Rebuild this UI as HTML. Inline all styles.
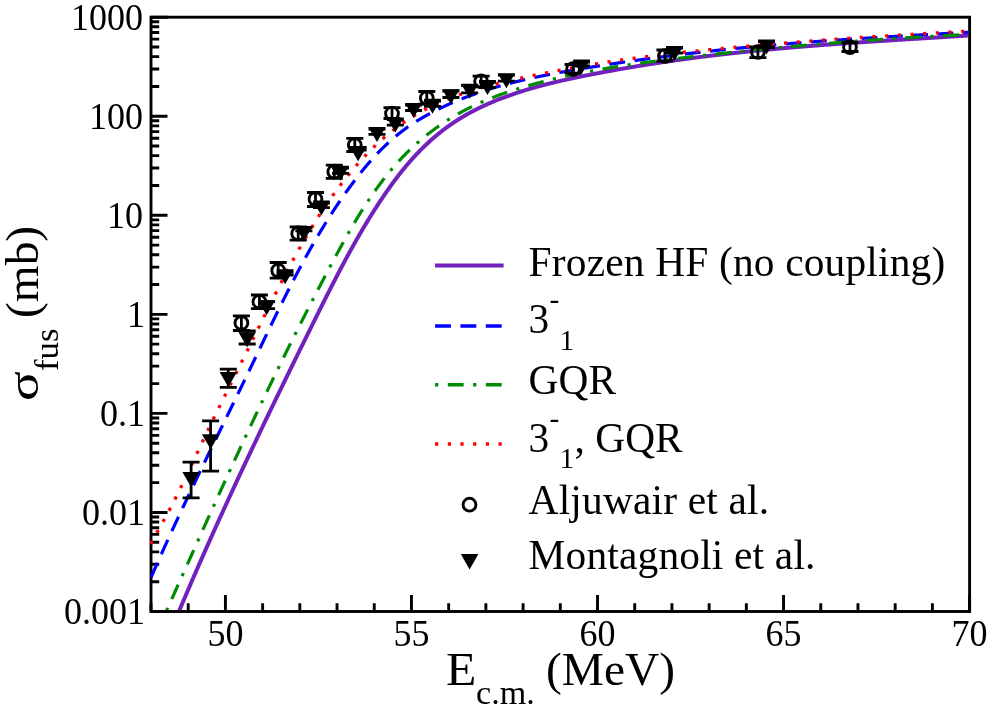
<!DOCTYPE html>
<html><head><meta charset="utf-8"><title>fusion cross sections</title>
<style>
html,body{margin:0;padding:0;background:#fff;}
body{width:991px;height:709px;position:relative;overflow:hidden;font-family:"Liberation Serif",serif;color:#000;}
.a{position:absolute;width:0;height:0;transform-origin:0 0;}
.t{position:absolute;display:block;white-space:nowrap;line-height:1;font-family:"Liberation Serif",serif;}
</style></head><body>
<svg width="991" height="709" viewBox="0 0 991 709" style="position:absolute;left:0;top:0">
<defs><clipPath id="c"><rect x="149.55" y="15.75" width="818.6" height="594.3"/></clipPath></defs>
<path d="M151.00 611.5v-8.2M188.21 611.5v-8.2M225.42 611.5v-16.5M262.63 611.5v-8.2M299.84 611.5v-8.2M337.05 611.5v-8.2M374.25 611.5v-8.2M411.46 611.5v-16.5M448.67 611.5v-8.2M485.88 611.5v-8.2M523.09 611.5v-8.2M560.30 611.5v-8.2M597.51 611.5v-16.5M634.72 611.5v-8.2M671.93 611.5v-8.2M709.14 611.5v-8.2M746.35 611.5v-8.2M783.55 611.5v-16.5M820.76 611.5v-8.2M857.97 611.5v-8.2M895.18 611.5v-8.2M932.39 611.5v-8.2M969.60 611.5v-16.5M151.0 611.50h16.5M151.0 581.68h8.2M151.0 564.24h8.2M151.0 551.87h8.2M151.0 542.27h8.2M151.0 534.42h8.2M151.0 527.79h8.2M151.0 522.05h8.2M151.0 516.98h8.2M151.0 512.45h16.5M151.0 482.63h8.2M151.0 465.19h8.2M151.0 452.82h8.2M151.0 443.22h8.2M151.0 435.37h8.2M151.0 428.74h8.2M151.0 423.00h8.2M151.0 417.93h8.2M151.0 413.40h16.5M151.0 383.58h8.2M151.0 366.14h8.2M151.0 353.77h8.2M151.0 344.17h8.2M151.0 336.32h8.2M151.0 329.69h8.2M151.0 323.95h8.2M151.0 318.88h8.2M151.0 314.35h16.5M151.0 284.53h8.2M151.0 267.09h8.2M151.0 254.72h8.2M151.0 245.12h8.2M151.0 237.27h8.2M151.0 230.64h8.2M151.0 224.90h8.2M151.0 219.83h8.2M151.0 215.30h16.5M151.0 185.48h8.2M151.0 168.04h8.2M151.0 155.67h8.2M151.0 146.07h8.2M151.0 138.22h8.2M151.0 131.59h8.2M151.0 125.85h8.2M151.0 120.78h8.2M151.0 116.25h16.5M151.0 86.43h8.2M151.0 68.99h8.2M151.0 56.62h8.2M151.0 47.02h8.2M151.0 39.17h8.2M151.0 32.54h8.2M151.0 26.80h8.2M151.0 21.73h8.2M151.0 17.20h16.5" stroke="#000" stroke-width="2.9" fill="none"/>
<rect x="151.0" y="17.2" width="818.6" height="594.3" fill="none" stroke="#000" stroke-width="2.9"/>
<g clip-path="url(#c)">
<path d="M174.62 621.78L174.90 621.09L175.19 620.41L175.47 619.72L175.76 619.04L176.04 618.35L176.33 617.67L176.62 616.98L176.90 616.30L177.19 615.61L177.48 614.93L177.76 614.24L178.05 613.56L178.34 612.87L178.62 612.19L178.91 611.50L179.20 610.82L179.49 610.14L179.78 609.45L180.06 608.77L180.35 608.08L180.64 607.40L180.93 606.72L181.22 606.03L181.51 605.35L181.79 604.67L182.08 603.98L182.37 603.30L182.66 602.62L182.95 601.93L183.24 601.25L183.53 600.57L183.82 599.89L184.11 599.20L184.40 598.52L184.69 597.84L184.98 597.16L185.27 596.47L185.57 595.79L185.86 595.11L186.15 594.43L186.44 593.74L186.73 593.06L187.02 592.38L187.31 591.70L187.61 591.02L187.90 590.34L188.19 589.65L188.48 588.97L188.77 588.29L189.07 587.61L189.36 586.93L189.65 586.25L189.95 585.57L190.24 584.89L190.53 584.21L190.83 583.52L191.12 582.84L191.41 582.16L191.71 581.48L192.00 580.80L192.30 580.12L192.59 579.44L192.89 578.76L193.18 578.08L193.47 577.40L193.77 576.72L194.06 576.04L194.36 575.36L194.66 574.68L194.95 574.00L195.25 573.32L195.54 572.64L195.84 571.97L196.13 571.29L196.43 570.61L196.73 569.93L197.02 569.25L197.32 568.57L197.62 567.89L197.91 567.21L198.21 566.53L198.51 565.85L198.81 565.18L199.10 564.50L199.40 563.82L199.70 563.14L200.00 562.46L200.29 561.78L200.59 561.11L200.89 560.43L201.19 559.75L201.49 559.07L201.79 558.39L202.08 557.72L202.38 557.04L202.68 556.36L202.98 555.68L203.28 555.01L203.58 554.33L203.88 553.65L204.18 552.98L204.48 552.30L204.78 551.62L205.08 550.94L205.38 550.27L205.68 549.59L205.98 548.91L206.28 548.24L206.58 547.56L206.88 546.88L207.18 546.21L207.48 545.53L207.79 544.86L208.09 544.18L208.39 543.50L208.69 542.83L208.99 542.15L209.29 541.47L209.60 540.80L209.90 540.12L210.20 539.45L210.50 538.77L210.81 538.10L211.11 537.42L211.41 536.74L211.71 536.07L212.02 535.39L212.32 534.72L212.62 534.04L212.93 533.37L213.23 532.69L213.53 532.02L213.84 531.34L214.14 530.67L214.44 529.99L214.75 529.32L215.05 528.64L215.36 527.97L215.66 527.30L215.97 526.62L216.27 525.95L216.58 525.27L216.88 524.60L217.19 523.92L217.49 523.25L217.80 522.58L218.10 521.90L218.41 521.23L218.71 520.55L219.02 519.88L219.33 519.21L219.63 518.53L219.94 517.86L220.24 517.19L220.55 516.51L220.86 515.84L221.16 515.16L221.47 514.49L221.78 513.82L222.08 513.14L222.39 512.47L222.70 511.80L223.01 511.13L223.31 510.45L223.62 509.78L223.93 509.11L224.24 508.43L224.54 507.76L224.85 507.09L225.16 506.42L225.47 505.74L225.78 505.07L226.08 504.40L226.39 503.73L226.70 503.05L227.01 502.38L227.32 501.71L227.63 501.04L227.94 500.37L228.25 499.69L228.56 499.02L228.87 498.35L229.17 497.68L229.48 497.01L229.79 496.33L230.10 495.66L230.41 494.99L230.72 494.32L231.03 493.65L231.34 492.98L231.65 492.31L231.97 491.63L232.28 490.96L232.59 490.29L232.90 489.62L233.21 488.95L233.52 488.28L233.83 487.61L234.14 486.94L234.45 486.26L234.76 485.59L235.08 484.92L235.39 484.25L235.70 483.58L236.01 482.91L236.32 482.24L236.64 481.57L236.95 480.90L237.26 480.23L237.57 479.56L237.88 478.89L238.20 478.22L238.51 477.55L238.82 476.88L239.14 476.21L239.45 475.54L239.76 474.87L240.07 474.20L240.39 473.53L240.70 472.86L241.02 472.19L241.33 471.52L241.64 470.85L241.96 470.18L242.27 469.51L242.58 468.84L242.90 468.17L243.21 467.50L243.53 466.83L243.84 466.16L244.16 465.49L244.47 464.82L244.78 464.15L245.10 463.48L245.41 462.81L245.73 462.15L246.04 461.48L246.36 460.81L246.67 460.14L246.99 459.47L247.30 458.80L247.62 458.13L247.94 457.46L248.25 456.79L248.57 456.12L248.88 455.46L249.20 454.79L249.52 454.12L249.83 453.45L250.15 452.78L250.46 452.11L250.78 451.44L251.10 450.78L251.41 450.11L251.73 449.44L252.05 448.77L252.36 448.10L252.68 447.44L253.00 446.77L253.32 446.10L253.63 445.43L253.95 444.76L254.27 444.09L254.58 443.43L254.90 442.76L255.22 442.09L255.54 441.42L255.86 440.76L256.17 440.09L256.49 439.42L256.81 438.75L257.13 438.08L257.45 437.42L257.76 436.75L258.08 436.08L258.40 435.41L258.72 434.75L259.04 434.08L259.36 433.41L259.68 432.74L259.99 432.08L260.31 431.41L260.63 430.74L260.95 430.08L261.27 429.41L261.59 428.74L261.91 428.07L262.23 427.41L262.55 426.74L262.87 426.07L263.19 425.41L263.51 424.74L263.83 424.07L264.15 423.40L264.47 422.74L264.79 422.07L265.11 421.40L265.43 420.74L265.75 420.07L266.07 419.40L266.39 418.74L266.71 418.07L267.03 417.40L267.35 416.74L267.67 416.07L267.99 415.40L268.32 414.74L268.64 414.07L268.96 413.41L269.28 412.74L269.60 412.07L269.92 411.41L270.24 410.74L270.56 410.07L270.89 409.41L271.21 408.74L271.53 408.07L271.85 407.41L272.17 406.74L272.50 406.08L272.82 405.41L273.14 404.74L273.46 404.08L273.78 403.41L274.11 402.75L274.43 402.08L274.75 401.41L275.07 400.75L275.40 400.08L275.72 399.42L276.04 398.75L276.36 398.09L276.69 397.42L277.01 396.75L277.33 396.09L277.66 395.42L277.98 394.76L278.30 394.09L278.63 393.43L278.95 392.76L279.27 392.09L279.60 391.43L279.92 390.76L280.24 390.10L280.57 389.43L280.89 388.77L281.21 388.10L281.54 387.44L281.86 386.77L282.19 386.11L282.51 385.44L282.83 384.77L283.16 384.11L283.48 383.44L283.81 382.78L284.13 382.11L284.46 381.45L284.78 380.78L285.11 380.12L285.43 379.45L285.75 378.79L286.08 378.12L286.40 377.46L286.73 376.79L287.05 376.13L287.38 375.46L287.70 374.80L288.03 374.13L288.35 373.47L288.68 372.80L289.01 372.14L289.33 371.47L289.66 370.81L289.98 370.14L290.31 369.48L290.63 368.81L290.96 368.15L291.28 367.48L291.61 366.82L291.94 366.15L292.26 365.49L292.59 364.82L292.91 364.16L293.24 363.49L293.57 362.83L293.89 362.16L294.22 361.50L294.54 360.83L294.87 360.17L295.20 359.50L295.52 358.84L295.85 358.18L296.18 357.51L296.50 356.85L296.83 356.18L297.16 355.52L297.48 354.85L297.81 354.19L298.14 353.52L298.46 352.86L298.79 352.19L299.12 351.53L299.44 350.86L299.77 350.20L300.10 349.54L300.43 348.87L300.75 348.21L301.08 347.54L301.41 346.88L301.74 346.21L302.06 345.55L302.39 344.88L302.72 344.22L303.05 343.56L303.37 342.89L303.70 342.23L304.03 341.56L304.36 340.90L304.68 340.23L305.01 339.57L305.34 338.90L305.67 338.24L306.00 337.58L306.32 336.91L306.65 336.25L306.98 335.58L307.31 334.92L307.64 334.25L307.97 333.59L308.29 332.92L308.62 332.26L308.95 331.60L309.28 330.93L309.61 330.27L309.94 329.60L310.26 328.94L310.59 328.27L310.92 327.61L311.25 326.95L311.58 326.28L311.91 325.62L312.24 324.95L312.57 324.29L312.89 323.62L313.22 322.96L313.55 322.30L313.88 321.63L314.21 320.97L314.54 320.30L314.87 319.64L315.20 318.97L315.53 318.31L315.86 317.64L316.19 316.98L316.52 316.32L316.84 315.65L317.17 314.99L317.50 314.32L317.83 313.66L318.16 313.00L318.49 312.33L318.82 311.67L319.15 311.00L319.48 310.34L319.81 309.68L320.15 309.01L320.48 308.35L320.81 307.68L321.14 307.02L321.47 306.36L321.80 305.69L322.13 305.03L322.46 304.37L322.79 303.70L323.13 303.04L323.46 302.38L323.79 301.71L324.12 301.05L324.45 300.39L324.79 299.73L325.12 299.06L325.45 298.40L325.79 297.74L326.12 297.07L326.45 296.41L326.79 295.75L327.12 295.09L327.46 294.43L327.79 293.76L328.12 293.10L328.46 292.44L328.79 291.78L329.13 291.12L329.46 290.46L329.80 289.79L330.14 289.13L330.47 288.47L330.81 287.81L331.15 287.15L331.48 286.49L331.82 285.83L332.16 285.17L332.50 284.51L332.83 283.85L333.17 283.19L333.51 282.53L333.85 281.87L334.19 281.21L334.53 280.55L334.87 279.89L335.21 279.24L335.55 278.58L335.89 277.92L336.23 277.26L336.57 276.60L336.91 275.94L337.26 275.29L337.60 274.63L337.94 273.97L338.29 273.31L338.63 272.66L338.97 272.00L339.32 271.34L339.66 270.69L340.01 270.03L340.35 269.38L340.70 268.72L341.04 268.06L341.39 267.41L341.74 266.75L342.08 266.10L342.43 265.44L342.78 264.79L343.13 264.14L343.48 263.48L343.83 262.83L344.18 262.18L344.53 261.52L344.88 260.87L345.23 260.22L345.58 259.56L345.93 258.91L346.28 258.26L346.64 257.61L346.99 256.96L347.34 256.31L347.70 255.66L348.05 255.00L348.41 254.35L348.76 253.70L349.12 253.05L349.47 252.40L349.83 251.76L350.19 251.11L350.55 250.46L350.90 249.81L351.26 249.16L351.62 248.51L351.98 247.87L352.34 247.22L352.70 246.57L353.07 245.93L353.43 245.28L353.79 244.63L354.15 243.99L354.52 243.34L354.88 242.70L355.25 242.05L355.61 241.41L355.98 240.77L356.34 240.12L356.71 239.48L357.08 238.84L357.45 238.19L357.81 237.55L358.18 236.91L358.55 236.27L358.92 235.63L359.29 234.98L359.67 234.34L360.04 233.70L360.41 233.06L360.78 232.42L361.16 231.79L361.53 231.15L361.91 230.51L362.28 229.87L362.66 229.23L363.04 228.60L363.42 227.96L363.79 227.32L364.17 226.69L364.55 226.05L364.93 225.41L365.31 224.78L365.70 224.15L366.08 223.51L366.46 222.88L366.85 222.24L367.23 221.61L367.62 220.98L368.00 220.35L368.39 219.72L368.77 219.08L369.16 218.45L369.55 217.82L369.94 217.19L370.33 216.56L370.72 215.93L371.11 215.31L371.51 214.68L371.90 214.05L372.29 213.42L372.69 212.80L373.08 212.17L373.48 211.54L373.87 210.92L374.27 210.29L374.67 209.67L375.07 209.04L375.47 208.42L375.87 207.80L376.27 207.17L376.67 206.55L377.08 205.93L377.48 205.31L377.88 204.69L378.29 204.07L378.70 203.45L379.10 202.83L379.51 202.21L379.92 201.59L380.33 200.97L380.74 200.36L381.15 199.74L381.56 199.12L381.97 198.51L382.39 197.89L382.80 197.28L383.22 196.66L383.63 196.05L384.05 195.43L384.47 194.82L384.89 194.21L385.31 193.60L385.73 192.99L386.15 192.38L386.57 191.77L386.99 191.16L387.42 190.55L387.84 189.94L388.27 189.33L388.70 188.73L389.13 188.12L389.55 187.51L389.98 186.91L390.42 186.31L390.85 185.70L391.28 185.10L391.72 184.50L392.15 183.90L392.59 183.30L393.03 182.70L393.47 182.10L393.91 181.50L394.35 180.91L394.79 180.31L395.23 179.72L395.68 179.12L396.12 178.53L396.57 177.94L397.02 177.35L397.47 176.76L397.92 176.17L398.37 175.58L398.83 175.00L399.28 174.41L399.74 173.83L400.20 173.24L400.66 172.66L401.12 172.08L401.58 171.50L402.04 170.92L402.51 170.34L402.97 169.77L403.44 169.19L403.91 168.62L404.38 168.05L404.85 167.48L405.33 166.91L405.80 166.34L406.28 165.77L406.75 165.20L407.23 164.64L407.71 164.07L408.20 163.51L408.68 162.95L409.16 162.39L409.65 161.83L410.14 161.28L410.63 160.72L411.12 160.17L411.61 159.61L412.11 159.06L412.60 158.51L413.10 157.97L413.60 157.42L414.10 156.87L414.60 156.33L415.10 155.79L415.60 155.25L416.11 154.71L416.62 154.17L417.12 153.63L417.63 153.10L418.15 152.57L418.66 152.03L419.17 151.50L419.69 150.98L420.21 150.45L420.73 149.92L421.25 149.40L421.77 148.88L422.29 148.36L422.82 147.84L423.34 147.32L423.87 146.81L424.40 146.30L424.93 145.78L425.47 145.27L426.00 144.77L426.54 144.26L427.07 143.76L427.61 143.25L428.15 142.75L428.70 142.25L429.24 141.76L429.78 141.26L430.33 140.77L430.88 140.28L431.43 139.79L431.98 139.30L432.53 138.81L433.09 138.33L433.64 137.85L434.20 137.36L434.76 136.89L435.32 136.41L435.88 135.94L436.45 135.46L437.01 134.99L437.58 134.52L438.15 134.06L438.72 133.59L439.29 133.13L439.86 132.67L440.44 132.21L441.01 131.76L441.59 131.30L442.17 130.85L442.75 130.40L443.33 129.95L443.92 129.51L444.50 129.06L445.09 128.62L445.68 128.18L446.27 127.75L446.86 127.31L447.46 126.88L448.05 126.45L448.65 126.02L449.25 125.59L449.85 125.17L450.45 124.75L451.05 124.33L451.66 123.91L452.27 123.50L452.87 123.09L453.48 122.68L454.10 122.27L454.71 121.86L455.32 121.46L455.94 121.06L456.56 120.66L457.18 120.26L457.80 119.87L458.42 119.48L459.04 119.09L459.67 118.70L460.30 118.31L460.92 117.93L461.55 117.55L462.19 117.17L462.82 116.80L463.45 116.42L464.09 116.05L464.72 115.68L465.36 115.31L466.00 114.94L466.64 114.58L467.28 114.22L467.93 113.86L468.57 113.50L469.22 113.15L469.87 112.79L470.52 112.44L471.17 112.09L471.82 111.74L472.47 111.40L473.12 111.06L473.78 110.72L474.43 110.38L475.09 110.04L475.75 109.70L476.41 109.37L477.07 109.04L477.73 108.71L478.39 108.38L479.06 108.06L479.72 107.73L480.39 107.41L481.05 107.09L481.72 106.77L482.39 106.46L483.06 106.14L483.73 105.83L484.41 105.52L485.08 105.21L485.75 104.91L486.43 104.60L487.10 104.30L487.78 104.00L488.46 103.70L489.14 103.40L489.82 103.10L490.50 102.81L491.18 102.52L491.86 102.23L492.54 101.94L493.23 101.65L493.91 101.37L494.60 101.08L495.28 100.80L495.97 100.52L496.66 100.24L497.35 99.96L498.04 99.69L498.73 99.42L499.42 99.14L500.11 98.87L500.80 98.61L501.50 98.34L502.19 98.07L502.88 97.81L503.58 97.55L504.27 97.29L504.97 97.03L505.67 96.77L506.36 96.52L507.06 96.26L507.76 96.01L508.46 95.76L509.16 95.51L509.86 95.26L510.56 95.01L511.26 94.77L511.96 94.52L512.66 94.28L513.36 94.04L514.07 93.80L514.77 93.57L515.47 93.33L516.18 93.09L516.88 92.86L517.59 92.63L518.29 92.40L519.00 92.17L519.71 91.94L520.41 91.72L521.12 91.49L521.83 91.27L522.53 91.04L523.24 90.82L523.95 90.60L524.66 90.39L525.37 90.17L526.08 89.95L526.79 89.74L527.50 89.53L528.21 89.31L528.92 89.10L529.63 88.89L530.34 88.69L531.05 88.48L531.77 88.27L532.48 88.07L533.19 87.86L533.91 87.66L534.62 87.46L535.33 87.26L536.05 87.06L536.76 86.87L537.48 86.67L538.19 86.47L538.91 86.28L539.62 86.09L540.34 85.89L541.06 85.70L541.77 85.51L542.49 85.32L543.21 85.14L543.92 84.95L544.64 84.76L545.36 84.58L546.08 84.39L546.80 84.21L547.52 84.03L548.24 83.85L548.95 83.67L549.67 83.49L550.39 83.31L551.11 83.14L551.83 82.96L552.56 82.78L553.28 82.61L554.00 82.44L554.72 82.26L555.44 82.09L556.16 81.92L556.88 81.75L557.60 81.58L558.33 81.41L559.05 81.25L559.77 81.08L560.49 80.91L561.22 80.75L561.94 80.58L562.66 80.42L563.39 80.26L564.11 80.09L564.84 79.93L565.56 79.77L566.28 79.61L567.01 79.45L567.73 79.29L568.46 79.14L569.18 78.98L569.91 78.82L570.63 78.67L571.36 78.51L572.08 78.36L572.81 78.20L573.53 78.05L574.26 77.89L574.98 77.74L575.71 77.59L576.44 77.44L577.16 77.29L577.89 77.14L578.61 76.99L579.34 76.84L580.07 76.69L580.79 76.54L581.52 76.40L582.25 76.25L582.97 76.10L583.70 75.96L584.43 75.81L585.15 75.66L585.88 75.52L586.61 75.37L587.34 75.23L588.06 75.09L588.79 74.94L589.52 74.80L590.25 74.66L590.97 74.52L591.70 74.37L592.43 74.23L593.15 74.09L593.88 73.95L594.61 73.81L595.34 73.67L596.06 73.53L596.79 73.39L597.52 73.25L598.25 73.11L598.98 72.97L599.70 72.84L600.43 72.70L601.16 72.56L601.89 72.43L602.61 72.29L603.34 72.15L604.07 72.02L604.80 71.88L605.53 71.75L606.25 71.61L606.98 71.48L607.71 71.34L608.44 71.21L609.17 71.07L609.89 70.94L610.62 70.81L611.35 70.68L612.08 70.54L612.81 70.41L613.54 70.28L614.26 70.15L614.99 70.02L615.72 69.89L616.45 69.76L617.18 69.63L617.91 69.50L618.64 69.37L619.36 69.24L620.09 69.11L620.82 68.99L621.55 68.86L622.28 68.73L623.01 68.60L623.74 68.48L624.47 68.35L625.19 68.23L625.92 68.10L626.65 67.97L627.38 67.85L628.11 67.73L628.84 67.60L629.57 67.48L630.30 67.35L631.03 67.23L631.76 67.11L632.49 66.98L633.22 66.86L633.94 66.74L634.67 66.62L635.40 66.50L636.13 66.38L636.86 66.26L637.59 66.14L638.32 66.02L639.05 65.90L639.78 65.78L640.51 65.66L641.24 65.54L641.97 65.42L642.70 65.30L643.43 65.19L644.16 65.07L644.89 64.95L645.62 64.83L646.35 64.72L647.08 64.60L647.81 64.49L648.54 64.37L649.27 64.26L650.00 64.14L650.73 64.03L651.46 63.91L652.19 63.80L652.92 63.69L653.65 63.57L654.38 63.46L655.11 63.35L655.84 63.23L656.58 63.12L657.31 63.01L658.04 62.90L658.77 62.79L659.50 62.68L660.23 62.57L660.96 62.46L661.69 62.35L662.42 62.24L663.15 62.13L663.88 62.02L664.61 61.91L665.35 61.81L666.08 61.70L666.81 61.59L667.54 61.48L668.27 61.38L669.00 61.27L669.73 61.16L670.47 61.06L671.20 60.95L671.93 60.85L672.66 60.74L673.39 60.64L674.12 60.53L674.85 60.43L675.59 60.33L676.32 60.22L677.05 60.12L677.78 60.02L678.51 59.92L679.25 59.81L679.98 59.71L680.71 59.61L681.44 59.51L682.17 59.41L682.91 59.31L683.64 59.21L684.37 59.11L685.10 59.01L685.84 58.91L686.57 58.81L687.30 58.71L688.03 58.61L688.76 58.51L689.50 58.42L690.23 58.32L690.96 58.22L691.70 58.12L692.43 58.03L693.16 57.93L693.89 57.84L694.63 57.74L695.36 57.64L696.09 57.55L696.83 57.45L697.56 57.36L698.29 57.27L699.03 57.17L699.76 57.08L700.49 56.99L701.22 56.89L701.96 56.80L702.69 56.71L703.43 56.62L704.16 56.52L704.89 56.43L705.63 56.34L706.36 56.25L707.09 56.16L707.83 56.07L708.56 55.98L709.29 55.89L710.03 55.80L710.76 55.71L711.50 55.62L712.23 55.53L712.96 55.44L713.70 55.36L714.43 55.27L715.17 55.18L715.90 55.09L716.64 55.01L717.37 54.92L718.10 54.83L718.84 54.75L719.57 54.66L720.31 54.58L721.04 54.49L721.78 54.41L722.51 54.32L723.25 54.24L723.98 54.15L724.72 54.07L725.45 53.99L726.19 53.90L726.92 53.82L727.66 53.74L728.39 53.66L729.13 53.57L729.86 53.49L730.60 53.41L731.33 53.33L732.07 53.25L732.80 53.17L733.54 53.09L734.27 53.01L735.01 52.93L735.74 52.85L736.48 52.77L737.22 52.69L737.95 52.61L738.69 52.53L739.42 52.45L740.16 52.37L740.89 52.29L741.63 52.22L742.37 52.14L743.10 52.06L743.84 51.99L744.57 51.91L745.31 51.83L746.05 51.76L746.78 51.68L747.52 51.60L748.25 51.53L748.99 51.45L749.73 51.38L750.46 51.30L751.20 51.23L751.94 51.16L752.67 51.08L753.41 51.01L754.15 50.93L754.88 50.86L755.62 50.79L756.36 50.72L757.09 50.64L757.83 50.57L758.57 50.50L759.30 50.43L760.04 50.35L760.78 50.28L761.51 50.21L762.25 50.14L762.99 50.07L763.72 50.00L764.46 49.93L765.20 49.86L765.93 49.79L766.67 49.72L767.41 49.65L768.15 49.58L768.88 49.51L769.62 49.44L770.36 49.37L771.09 49.31L771.83 49.24L772.57 49.17L773.31 49.10L774.04 49.03L774.78 48.97L775.52 48.90L776.26 48.83L776.99 48.77L777.73 48.70L778.47 48.63L779.21 48.57L779.94 48.50L780.68 48.44L781.42 48.37L782.16 48.31L782.90 48.24L783.63 48.18L784.37 48.11L785.11 48.05L785.85 47.98L786.58 47.92L787.32 47.85L788.06 47.79L788.80 47.73L789.54 47.66L790.27 47.60L791.01 47.54L791.75 47.48L792.49 47.41L793.23 47.35L793.96 47.29L794.70 47.23L795.44 47.16L796.18 47.10L796.92 47.04L797.66 46.98L798.39 46.92L799.13 46.86L799.87 46.80L800.61 46.74L801.35 46.68L802.09 46.62L802.82 46.56L803.56 46.50L804.30 46.44L805.04 46.38L805.78 46.32L806.52 46.26L807.26 46.20L807.99 46.14L808.73 46.08L809.47 46.02L810.21 45.96L810.95 45.90L811.69 45.85L812.43 45.79L813.16 45.73L813.90 45.67L814.64 45.62L815.38 45.56L816.12 45.50L816.86 45.44L817.60 45.39L818.34 45.33L819.07 45.27L819.81 45.22L820.55 45.16L821.29 45.11L822.03 45.05L822.77 44.99L823.51 44.94L824.25 44.88L824.99 44.83L825.72 44.77L826.46 44.72L827.20 44.66L827.94 44.61L828.68 44.55L829.42 44.50L830.16 44.44L830.90 44.39L831.64 44.33L832.38 44.28L833.12 44.23L833.85 44.17L834.59 44.12L835.33 44.06L836.07 44.01L836.81 43.96L837.55 43.90L838.29 43.85L839.03 43.80L839.77 43.75L840.51 43.69L841.25 43.64L841.99 43.59L842.72 43.54L843.46 43.48L844.20 43.43L844.94 43.38L845.68 43.33L846.42 43.28L847.16 43.22L847.90 43.17L848.64 43.12L849.38 43.07L850.12 43.02L850.86 42.97L851.60 42.92L852.33 42.87L853.07 42.81L853.81 42.76L854.55 42.71L855.29 42.66L856.03 42.61L856.77 42.56L857.51 42.51L858.25 42.46L858.99 42.41L859.73 42.36L860.47 42.31L861.21 42.26L861.95 42.21L862.69 42.16L863.43 42.11L864.16 42.06L864.90 42.01L865.64 41.97L866.38 41.92L867.12 41.87L867.86 41.82L868.60 41.77L869.34 41.72L870.08 41.67L870.82 41.62L871.56 41.57L872.30 41.53L873.04 41.48L873.78 41.43L874.52 41.38L875.26 41.33L875.99 41.28L876.73 41.24L877.47 41.19L878.21 41.14L878.95 41.09L879.69 41.04L880.43 41.00L881.17 40.95L881.91 40.90L882.65 40.85L883.39 40.81L884.13 40.76L884.87 40.71L885.61 40.67L886.35 40.62L887.08 40.57L887.82 40.52L888.56 40.48L889.30 40.43L890.04 40.38L890.78 40.34L891.52 40.29L892.26 40.24L893.00 40.20L893.74 40.15L894.48 40.10L895.22 40.06L895.96 40.01L896.70 39.96L897.43 39.92L898.17 39.87L898.91 39.82L899.65 39.78L900.39 39.73L901.13 39.68L901.87 39.64L902.61 39.59L903.35 39.55L904.09 39.50L904.83 39.45L905.57 39.41L906.30 39.36L907.04 39.32L907.78 39.27L908.52 39.22L909.26 39.18L910.00 39.13L910.74 39.09L911.48 39.04L912.22 38.99L912.96 38.95L913.69 38.90L914.43 38.86L915.17 38.81L915.91 38.77L916.65 38.72L917.39 38.67L918.13 38.63L918.87 38.58L919.61 38.54L920.34 38.49L921.08 38.45L921.82 38.40L922.56 38.35L923.30 38.31L924.04 38.26L924.78 38.22L925.52 38.17L926.25 38.13L926.99 38.08L927.73 38.04L928.47 37.99L929.21 37.94L929.95 37.90L930.69 37.85L931.43 37.81L932.16 37.76L932.90 37.72L933.64 37.67L934.38 37.63L935.12 37.58L935.86 37.53L936.59 37.49L937.33 37.44L938.07 37.40L938.81 37.35L939.55 37.31L940.29 37.26L941.02 37.22L941.76 37.17L942.50 37.12L943.24 37.08L943.98 37.03L944.72 36.99L945.45 36.94L946.19 36.89L946.93 36.85L947.67 36.80L948.41 36.76L949.14 36.71L949.88 36.67L950.62 36.62L951.36 36.57L952.10 36.53L952.83 36.48L953.57 36.44L954.31 36.39L955.05 36.34L955.79 36.30L956.52 36.25L957.26 36.20L958.00 36.16L958.74 36.11L959.47 36.07L960.21 36.02L960.95 35.97L961.69 35.93L962.42 35.88L963.16 35.83L963.90 35.79L964.64 35.74L965.37 35.69L966.11 35.65L966.85 35.60L967.59 35.55L968.32 35.50L969.06 35.46L969.80 35.41L970.54 35.36L971.27 35.32L972.01 35.27L972.75 35.22L973.48 35.17L974.22 35.13L974.96 35.08" fill="none" stroke="#7221bc" stroke-width="4.0" stroke-linejoin="round"/>
<path d="M143.01 596.16L143.30 595.47L143.59 594.78L143.89 594.08L144.18 593.39L144.47 592.70L144.77 592.00L145.06 591.31L145.36 590.62L145.65 589.93L145.95 589.23L146.24 588.54L146.54 587.85L146.83 587.16L147.13 586.47L147.43 585.78L147.72 585.08L148.02 584.39L148.32 583.70L148.62 583.01L148.91 582.32L149.21 581.63L149.51 580.94L149.81 580.25L150.11 579.56L150.41 578.87L150.71 578.18L151.00 577.49L151.30 576.80L151.60 576.12L151.90 575.43L152.21 574.74L152.51 574.05L152.81 573.36L153.11 572.67L153.41 571.99L153.71 571.30L154.01 570.61L154.32 569.92L154.62 569.23L154.92 568.55L155.22 567.86L155.53 567.17L155.83 566.49L156.13 565.80L156.44 565.11L156.74 564.43L157.05 563.74L157.35 563.06L157.66 562.37L157.96 561.68L158.27 561.00L158.57 560.31L158.88 559.63L159.18 558.94L159.49 558.26L159.79 557.57L160.10 556.89L160.41 556.20L160.71 555.52L161.02 554.83L161.33 554.15L161.64 553.47L161.94 552.78L162.25 552.10L162.56 551.41L162.87 550.73L163.18 550.05L163.49 549.36L163.80 548.68L164.10 548.00L164.41 547.32L164.72 546.63L165.03 545.95L165.34 545.27L165.65 544.59L165.96 543.90L166.27 543.22L166.58 542.54L166.90 541.86L167.21 541.18L167.52 540.49L167.83 539.81L168.14 539.13L168.45 538.45L168.77 537.77L169.08 537.09L169.39 536.41L169.70 535.73L170.02 535.04L170.33 534.36L170.64 533.68L170.96 533.00L171.27 532.32L171.58 531.64L171.90 530.96L172.21 530.28L172.52 529.60L172.84 528.92L173.15 528.24L173.47 527.56L173.78 526.89L174.10 526.21L174.41 525.53L174.73 524.85L175.04 524.17L175.36 523.49L175.68 522.81L175.99 522.13L176.31 521.45L176.63 520.78L176.94 520.10L177.26 519.42L177.58 518.74L177.89 518.06L178.21 517.39L178.53 516.71L178.84 516.03L179.16 515.35L179.48 514.67L179.80 514.00L180.12 513.32L180.43 512.64L180.75 511.97L181.07 511.29L181.39 510.61L181.71 509.93L182.03 509.26L182.35 508.58L182.67 507.90L182.99 507.23L183.31 506.55L183.62 505.87L183.94 505.20L184.26 504.52L184.58 503.85L184.91 503.17L185.23 502.49L185.55 501.82L185.87 501.14L186.19 500.47L186.51 499.79L186.83 499.11L187.15 498.44L187.47 497.76L187.79 497.09L188.11 496.41L188.44 495.74L188.76 495.06L189.08 494.39L189.40 493.71L189.72 493.04L190.05 492.36L190.37 491.69L190.69 491.01L191.01 490.34L191.34 489.66L191.66 488.99L191.98 488.31L192.30 487.64L192.63 486.96L192.95 486.29L193.27 485.62L193.60 484.94L193.92 484.27L194.24 483.59L194.57 482.92L194.89 482.24L195.22 481.57L195.54 480.90L195.86 480.22L196.19 479.55L196.51 478.88L196.84 478.20L197.16 477.53L197.49 476.85L197.81 476.18L198.14 475.51L198.46 474.83L198.79 474.16L199.11 473.49L199.44 472.81L199.76 472.14L200.09 471.47L200.41 470.79L200.74 470.12L201.06 469.45L201.39 468.77L201.71 468.10L202.04 467.43L202.37 466.76L202.69 466.08L203.02 465.41L203.34 464.74L203.67 464.06L204.00 463.39L204.32 462.72L204.65 462.05L204.98 461.37L205.30 460.70L205.63 460.03L205.96 459.36L206.28 458.68L206.61 458.01L206.94 457.34L207.26 456.66L207.59 455.99L207.92 455.32L208.24 454.65L208.57 453.98L208.90 453.30L209.23 452.63L209.55 451.96L209.88 451.29L210.21 450.61L210.53 449.94L210.86 449.27L211.19 448.60L211.52 447.92L211.85 447.25L212.17 446.58L212.50 445.91L212.83 445.24L213.16 444.56L213.48 443.89L213.81 443.22L214.14 442.55L214.47 441.88L214.80 441.20L215.12 440.53L215.45 439.86L215.78 439.19L216.11 438.52L216.44 437.84L216.77 437.17L217.09 436.50L217.42 435.83L217.75 435.15L218.08 434.48L218.41 433.81L218.74 433.14L219.06 432.47L219.39 431.79L219.72 431.12L220.05 430.45L220.38 429.78L220.71 429.11L221.03 428.43L221.36 427.76L221.69 427.09L222.02 426.42L222.35 425.75L222.68 425.07L223.01 424.40L223.34 423.73L223.66 423.06L223.99 422.39L224.32 421.71L224.65 421.04L224.98 420.37L225.31 419.70L225.64 419.02L225.96 418.35L226.29 417.68L226.62 417.01L226.95 416.34L227.28 415.66L227.61 414.99L227.94 414.32L228.27 413.65L228.59 412.97L228.92 412.30L229.25 411.63L229.58 410.96L229.91 410.28L230.24 409.61L230.57 408.94L230.89 408.27L231.22 407.59L231.55 406.92L231.88 406.25L232.21 405.58L232.54 404.90L232.87 404.23L233.19 403.56L233.52 402.88L233.85 402.21L234.18 401.54L234.51 400.87L234.84 400.19L235.17 399.52L235.49 398.85L235.82 398.17L236.15 397.50L236.48 396.83L236.81 396.15L237.13 395.48L237.46 394.81L237.79 394.13L238.12 393.46L238.45 392.79L238.78 392.11L239.10 391.44L239.43 390.77L239.76 390.09L240.09 389.42L240.41 388.75L240.74 388.07L241.07 387.40L241.40 386.72L241.73 386.05L242.05 385.38L242.38 384.70L242.71 384.03L243.04 383.35L243.36 382.68L243.69 382.01L244.02 381.33L244.34 380.66L244.67 379.98L245.00 379.31L245.33 378.63L245.65 377.96L245.98 377.28L246.31 376.61L246.63 375.94L246.96 375.26L247.29 374.59L247.61 373.91L247.94 373.24L248.27 372.56L248.59 371.88L248.92 371.21L249.24 370.53L249.57 369.86L249.90 369.18L250.22 368.51L250.55 367.83L250.87 367.16L251.20 366.48L251.53 365.80L251.85 365.13L252.18 364.45L252.50 363.78L252.83 363.10L253.15 362.42L253.48 361.75L253.80 361.07L254.13 360.39L254.45 359.72L254.78 359.04L255.10 358.36L255.43 357.69L255.75 357.01L256.08 356.33L256.40 355.66L256.73 354.98L257.05 354.30L257.38 353.63L257.70 352.95L258.03 352.27L258.35 351.60L258.68 350.92L259.00 350.24L259.33 349.56L259.65 348.89L259.97 348.21L260.30 347.53L260.62 346.86L260.95 346.18L261.27 345.50L261.60 344.82L261.92 344.15L262.25 343.47L262.57 342.79L262.90 342.11L263.22 341.44L263.55 340.76L263.87 340.08L264.20 339.41L264.52 338.73L264.85 338.05L265.17 337.37L265.50 336.70L265.82 336.02L266.15 335.34L266.48 334.67L266.80 333.99L267.13 333.31L267.45 332.63L267.78 331.96L268.11 331.28L268.43 330.60L268.76 329.93L269.08 329.25L269.41 328.57L269.74 327.90L270.06 327.22L270.39 326.54L270.72 325.87L271.05 325.19L271.37 324.51L271.70 323.84L272.03 323.16L272.36 322.49L272.68 321.81L273.01 321.13L273.34 320.46L273.67 319.78L274.00 319.11L274.33 318.43L274.65 317.76L274.98 317.08L275.31 316.41L275.64 315.73L275.97 315.05L276.30 314.38L276.63 313.70L276.96 313.03L277.29 312.36L277.62 311.68L277.96 311.01L278.29 310.33L278.62 309.66L278.95 308.98L279.28 308.31L279.61 307.64L279.95 306.96L280.28 306.29L280.61 305.62L280.94 304.94L281.28 304.27L281.61 303.60L281.94 302.92L282.28 302.25L282.61 301.58L282.95 300.91L283.28 300.23L283.62 299.56L283.95 298.89L284.29 298.22L284.63 297.55L284.96 296.88L285.30 296.20L285.64 295.53L285.97 294.86L286.31 294.19L286.65 293.52L286.99 292.85L287.32 292.18L287.66 291.51L288.00 290.84L288.34 290.17L288.68 289.50L289.02 288.83L289.36 288.16L289.70 287.50L290.04 286.83L290.39 286.16L290.73 285.49L291.07 284.82L291.41 284.15L291.76 283.49L292.10 282.82L292.44 282.15L292.79 281.49L293.13 280.82L293.48 280.15L293.82 279.49L294.17 278.82L294.52 278.16L294.86 277.49L295.21 276.83L295.56 276.16L295.90 275.50L296.25 274.83L296.60 274.17L296.95 273.50L297.30 272.84L297.65 272.18L298.00 271.51L298.35 270.85L298.70 270.19L299.05 269.53L299.41 268.86L299.76 268.20L300.11 267.54L300.47 266.88L300.82 266.22L301.17 265.56L301.53 264.90L301.88 264.24L302.24 263.58L302.60 262.92L302.95 262.26L303.31 261.60L303.67 260.94L304.03 260.29L304.39 259.63L304.75 258.97L305.11 258.31L305.47 257.66L305.83 257.00L306.19 256.34L306.55 255.69L306.91 255.03L307.28 254.38L307.64 253.72L308.01 253.07L308.37 252.41L308.74 251.76L309.10 251.10L309.47 250.45L309.83 249.80L310.20 249.15L310.57 248.49L310.94 247.84L311.31 247.19L311.68 246.54L312.05 245.89L312.42 245.24L312.79 244.59L313.16 243.94L313.54 243.29L313.91 242.64L314.28 241.99L314.66 241.34L315.04 240.70L315.41 240.05L315.79 239.40L316.16 238.76L316.54 238.11L316.92 237.46L317.30 236.82L317.68 236.17L318.06 235.53L318.44 234.88L318.82 234.24L319.21 233.60L319.59 232.95L319.97 232.31L320.36 231.67L320.74 231.03L321.13 230.39L321.51 229.75L321.90 229.10L322.29 228.46L322.68 227.83L323.07 227.19L323.46 226.55L323.85 225.91L324.24 225.27L324.63 224.63L325.02 224.00L325.42 223.36L325.81 222.72L326.21 222.09L326.60 221.45L327.00 220.82L327.40 220.19L327.79 219.55L328.19 218.92L328.59 218.29L328.99 217.65L329.39 217.02L329.79 216.39L330.20 215.76L330.60 215.13L331.00 214.50L331.41 213.87L331.81 213.24L332.22 212.61L332.63 211.98L333.04 211.36L333.44 210.73L333.85 210.10L334.26 209.48L334.67 208.85L335.09 208.23L335.50 207.60L335.91 206.98L336.33 206.36L336.74 205.73L337.16 205.11L337.58 204.49L337.99 203.87L338.41 203.25L338.83 202.63L339.25 202.01L339.67 201.39L340.09 200.77L340.52 200.15L340.94 199.53L341.36 198.92L341.79 198.30L342.22 197.68L342.64 197.07L343.07 196.45L343.50 195.84L343.93 195.23L344.36 194.61L344.79 194.00L345.23 193.39L345.66 192.78L346.09 192.17L346.53 191.56L346.96 190.95L347.40 190.34L347.84 189.73L348.28 189.12L348.72 188.51L349.16 187.91L349.60 187.30L350.04 186.70L350.49 186.09L350.93 185.49L351.38 184.88L351.82 184.28L352.27 183.68L352.72 183.08L353.17 182.48L353.62 181.88L354.07 181.28L354.52 180.68L354.98 180.08L355.43 179.48L355.89 178.89L356.35 178.29L356.80 177.70L357.26 177.10L357.72 176.51L358.18 175.92L358.65 175.33L359.11 174.74L359.57 174.15L360.04 173.56L360.51 172.97L360.98 172.39L361.45 171.80L361.92 171.22L362.39 170.63L362.86 170.05L363.33 169.47L363.81 168.89L364.29 168.31L364.77 167.74L365.24 167.16L365.73 166.59L366.21 166.01L366.69 165.44L367.17 164.87L367.66 164.30L368.15 163.73L368.64 163.16L369.13 162.60L369.62 162.03L370.11 161.47L370.60 160.91L371.10 160.34L371.60 159.79L372.09 159.23L372.59 158.67L373.10 158.12L373.60 157.56L374.10 157.01L374.61 156.46L375.11 155.91L375.62 155.36L376.13 154.82L376.64 154.27L377.16 153.73L377.67 153.19L378.19 152.65L378.70 152.11L379.22 151.58L379.74 151.04L380.27 150.51L380.79 149.98L381.32 149.45L381.84 148.92L382.37 148.40L382.90 147.87L383.43 147.35L383.97 146.83L384.50 146.31L385.04 145.80L385.58 145.28L386.12 144.77L386.66 144.26L387.20 143.75L387.75 143.25L388.30 142.74L388.84 142.24L389.40 141.74L389.95 141.24L390.50 140.74L391.06 140.25L391.62 139.76L392.17 139.27L392.74 138.78L393.30 138.29L393.86 137.81L394.43 137.33L395.00 136.85L395.57 136.37L396.14 135.89L396.72 135.42L397.29 134.95L397.87 134.48L398.45 134.02L399.03 133.55L399.62 133.09L400.20 132.63L400.79 132.18L401.38 131.72L401.97 131.27L402.56 130.82L403.16 130.37L403.76 129.93L404.36 129.49L404.96 129.05L405.56 128.61L406.17 128.17L406.77 127.74L407.38 127.31L407.99 126.88L408.60 126.46L409.22 126.03L409.83 125.61L410.45 125.19L411.07 124.78L411.69 124.36L412.31 123.95L412.94 123.54L413.56 123.13L414.19 122.73L414.82 122.32L415.45 121.92L416.08 121.52L416.71 121.13L417.35 120.73L417.99 120.34L418.62 119.95L419.26 119.56L419.90 119.18L420.55 118.79L421.19 118.41L421.84 118.03L422.48 117.65L423.13 117.28L423.78 116.90L424.43 116.53L425.08 116.16L425.73 115.79L426.39 115.43L427.04 115.06L427.70 114.70L428.36 114.34L429.01 113.99L429.67 113.63L430.33 113.28L431.00 112.92L431.66 112.57L432.32 112.23L432.99 111.88L433.66 111.53L434.32 111.19L434.99 110.85L435.66 110.51L436.33 110.18L437.00 109.84L437.67 109.51L438.35 109.18L439.02 108.85L439.69 108.52L440.37 108.19L441.05 107.87L441.72 107.54L442.40 107.22L443.08 106.90L443.76 106.59L444.44 106.27L445.12 105.96L445.80 105.64L446.48 105.33L447.16 105.02L447.85 104.72L448.53 104.41L449.21 104.11L449.90 103.80L450.59 103.50L451.27 103.20L451.96 102.90L452.65 102.61L453.33 102.31L454.02 102.02L454.71 101.73L455.40 101.44L456.09 101.15L456.78 100.86L457.48 100.58L458.17 100.30L458.86 100.01L459.55 99.73L460.25 99.45L460.94 99.18L461.64 98.90L462.33 98.63L463.03 98.35L463.73 98.08L464.42 97.81L465.12 97.54L465.82 97.28L466.52 97.01L467.22 96.75L467.92 96.48L468.62 96.22L469.32 95.96L470.02 95.70L470.72 95.45L471.43 95.19L472.13 94.94L472.83 94.68L473.54 94.43L474.24 94.18L474.95 93.93L475.65 93.69L476.36 93.44L477.07 93.20L477.77 92.95L478.48 92.71L479.19 92.47L479.90 92.23L480.61 91.99L481.32 91.76L482.03 91.52L482.74 91.29L483.45 91.06L484.16 90.83L484.87 90.60L485.59 90.37L486.30 90.14L487.01 89.91L487.73 89.69L488.44 89.46L489.15 89.24L489.87 89.02L490.59 88.80L491.30 88.58L492.02 88.36L492.73 88.15L493.45 87.93L494.17 87.72L494.89 87.50L495.61 87.29L496.32 87.08L497.04 86.87L497.76 86.67L498.48 86.46L499.20 86.25L499.92 86.05L500.65 85.84L501.37 85.64L502.09 85.44L502.81 85.24L503.53 85.04L504.26 84.84L504.98 84.64L505.70 84.45L506.43 84.25L507.15 84.06L507.88 83.87L508.60 83.68L509.33 83.48L510.05 83.29L510.78 83.11L511.51 82.92L512.23 82.73L512.96 82.55L513.69 82.36L514.42 82.18L515.14 82.00L515.87 81.81L516.60 81.63L517.33 81.45L518.06 81.27L518.79 81.10L519.52 80.92L520.25 80.74L520.98 80.57L521.71 80.39L522.44 80.22L523.17 80.05L523.90 79.88L524.64 79.71L525.37 79.54L526.10 79.37L526.83 79.20L527.57 79.03L528.30 78.87L529.03 78.70L529.77 78.54L530.50 78.37L531.23 78.21L531.97 78.05L532.70 77.89L533.44 77.73L534.17 77.57L534.91 77.41L535.64 77.25L536.38 77.10L537.12 76.94L537.85 76.78L538.59 76.63L539.32 76.47L540.06 76.32L540.80 76.17L541.54 76.02L542.27 75.87L543.01 75.71L543.75 75.56L544.49 75.42L545.22 75.27L545.96 75.12L546.70 74.97L547.44 74.83L548.18 74.68L548.92 74.54L549.66 74.39L550.39 74.25L551.13 74.10L551.87 73.96L552.61 73.82L553.35 73.68L554.09 73.54L554.83 73.40L555.57 73.26L556.31 73.12L557.05 72.98L557.79 72.85L558.53 72.71L559.27 72.57L560.02 72.44L560.76 72.30L561.50 72.17L562.24 72.03L562.98 71.90L563.72 71.76L564.46 71.63L565.20 71.50L565.95 71.37L566.69 71.24L567.43 71.11L568.17 70.98L568.91 70.85L569.65 70.72L570.40 70.59L571.14 70.46L571.88 70.33L572.62 70.20L573.36 70.08L574.11 69.95L574.85 69.82L575.59 69.70L576.33 69.57L577.08 69.45L577.82 69.32L578.56 69.20L579.30 69.07L580.04 68.95L580.79 68.83L581.53 68.71L582.27 68.58L583.01 68.46L583.76 68.34L584.50 68.22L585.24 68.10L585.98 67.98L586.73 67.85L587.47 67.73L588.21 67.61L588.95 67.49L589.70 67.38L590.44 67.26L591.18 67.14L591.92 67.02L592.66 66.90L593.41 66.78L594.15 66.66L594.89 66.55L595.63 66.43L596.37 66.31L597.12 66.19L597.86 66.08L598.60 65.96L599.34 65.85L600.08 65.73L600.83 65.61L601.57 65.50L602.31 65.38L603.05 65.27L603.79 65.15L604.53 65.04L605.27 64.92L606.02 64.81L606.76 64.70L607.50 64.58L608.24 64.47L608.98 64.36L609.72 64.24L610.46 64.13L611.20 64.02L611.95 63.91L612.69 63.79L613.43 63.68L614.17 63.57L614.91 63.46L615.65 63.35L616.39 63.24L617.13 63.13L617.87 63.02L618.61 62.91L619.36 62.80L620.10 62.69L620.84 62.58L621.58 62.47L622.32 62.36L623.06 62.25L623.80 62.14L624.54 62.03L625.28 61.93L626.02 61.82L626.76 61.71L627.50 61.60L628.24 61.50L628.98 61.39L629.73 61.28L630.47 61.18L631.21 61.07L631.95 60.96L632.69 60.86L633.43 60.75L634.17 60.65L634.91 60.54L635.65 60.44L636.39 60.33L637.13 60.23L637.87 60.13L638.61 60.02L639.35 59.92L640.09 59.82L640.83 59.71L641.57 59.61L642.31 59.51L643.05 59.41L643.79 59.30L644.53 59.20L645.28 59.10L646.02 59.00L646.76 58.90L647.50 58.80L648.24 58.70L648.98 58.60L649.72 58.49L650.46 58.39L651.20 58.30L651.94 58.20L652.68 58.10L653.42 58.00L654.16 57.90L654.90 57.80L655.64 57.70L656.38 57.60L657.12 57.51L657.86 57.41L658.60 57.31L659.34 57.21L660.08 57.12L660.82 57.02L661.56 56.92L662.30 56.83L663.05 56.73L663.79 56.63L664.53 56.54L665.27 56.44L666.01 56.35L666.75 56.25L667.49 56.16L668.23 56.06L668.97 55.97L669.71 55.88L670.45 55.78L671.19 55.69L671.93 55.60L672.67 55.50L673.41 55.41L674.16 55.32L674.90 55.23L675.64 55.13L676.38 55.04L677.12 54.95L677.86 54.86L678.60 54.77L679.34 54.68L680.08 54.59L680.82 54.49L681.56 54.40L682.31 54.31L683.05 54.22L683.79 54.13L684.53 54.05L685.27 53.96L686.01 53.87L686.75 53.78L687.49 53.69L688.24 53.60L688.98 53.51L689.72 53.43L690.46 53.34L691.20 53.25L691.94 53.16L692.68 53.08L693.43 52.99L694.17 52.90L694.91 52.82L695.65 52.73L696.39 52.65L697.13 52.56L697.88 52.48L698.62 52.39L699.36 52.31L700.10 52.22L700.84 52.14L701.59 52.05L702.33 51.97L703.07 51.89L703.81 51.80L704.55 51.72L705.30 51.64L706.04 51.55L706.78 51.47L707.52 51.39L708.27 51.31L709.01 51.23L709.75 51.14L710.49 51.06L711.24 50.98L711.98 50.90L712.72 50.82L713.47 50.74L714.21 50.66L714.95 50.58L715.69 50.50L716.44 50.42L717.18 50.34L717.92 50.26L718.67 50.18L719.41 50.10L720.15 50.03L720.90 49.95L721.64 49.87L722.38 49.79L723.13 49.71L723.87 49.64L724.62 49.56L725.36 49.48L726.10 49.41L726.85 49.33L727.59 49.25L728.34 49.18L729.08 49.10L729.82 49.03L730.57 48.95L731.31 48.88L732.06 48.80L732.80 48.73L733.54 48.65L734.29 48.58L735.03 48.50L735.78 48.43L736.52 48.36L737.27 48.28L738.01 48.21L738.76 48.14L739.50 48.06L740.25 47.99L740.99 47.92L741.74 47.85L742.48 47.77L743.23 47.70L743.97 47.63L744.72 47.56L745.46 47.49L746.21 47.42L746.95 47.35L747.70 47.28L748.44 47.21L749.19 47.14L749.93 47.07L750.68 47.00L751.43 46.93L752.17 46.86L752.92 46.79L753.66 46.72L754.41 46.65L755.15 46.58L755.90 46.51L756.65 46.44L757.39 46.38L758.14 46.31L758.88 46.24L759.63 46.17L760.38 46.11L761.12 46.04L761.87 45.97L762.61 45.91L763.36 45.84L764.11 45.77L764.85 45.71L765.60 45.64L766.35 45.57L767.09 45.51L767.84 45.44L768.59 45.38L769.33 45.31L770.08 45.25L770.83 45.18L771.57 45.12L772.32 45.05L773.07 44.99L773.81 44.93L774.56 44.86L775.31 44.80L776.05 44.74L776.80 44.67L777.55 44.61L778.29 44.55L779.04 44.48L779.79 44.42L780.54 44.36L781.28 44.30L782.03 44.23L782.78 44.17L783.52 44.11L784.27 44.05L785.02 43.99L785.77 43.93L786.51 43.86L787.26 43.80L788.01 43.74L788.76 43.68L789.50 43.62L790.25 43.56L791.00 43.50L791.75 43.44L792.49 43.38L793.24 43.32L793.99 43.26L794.74 43.20L795.48 43.14L796.23 43.08L796.98 43.03L797.73 42.97L798.48 42.91L799.22 42.85L799.97 42.79L800.72 42.73L801.47 42.68L802.21 42.62L802.96 42.56L803.71 42.50L804.46 42.45L805.21 42.39L805.95 42.33L806.70 42.27L807.45 42.22L808.20 42.16L808.95 42.10L809.70 42.05L810.44 41.99L811.19 41.94L811.94 41.88L812.69 41.82L813.44 41.77L814.18 41.71L814.93 41.66L815.68 41.60L816.43 41.55L817.18 41.49L817.93 41.44L818.67 41.38L819.42 41.33L820.17 41.27L820.92 41.22L821.67 41.16L822.42 41.11L823.17 41.06L823.91 41.00L824.66 40.95L825.41 40.90L826.16 40.84L826.91 40.79L827.66 40.74L828.40 40.68L829.15 40.63L829.90 40.58L830.65 40.52L831.40 40.47L832.15 40.42L832.90 40.37L833.64 40.32L834.39 40.26L835.14 40.21L835.89 40.16L836.64 40.11L837.39 40.06L838.14 40.01L838.89 39.95L839.63 39.90L840.38 39.85L841.13 39.80L841.88 39.75L842.63 39.70L843.38 39.65L844.13 39.60L844.88 39.55L845.62 39.50L846.37 39.45L847.12 39.40L847.87 39.35L848.62 39.30L849.37 39.25L850.12 39.20L850.87 39.15L851.61 39.10L852.36 39.05L853.11 39.00L853.86 38.95L854.61 38.90L855.36 38.85L856.11 38.80L856.86 38.76L857.60 38.71L858.35 38.66L859.10 38.61L859.85 38.56L860.60 38.51L861.35 38.47L862.10 38.42L862.85 38.37L863.59 38.32L864.34 38.27L865.09 38.23L865.84 38.18L866.59 38.13L867.34 38.08L868.09 38.04L868.84 37.99L869.58 37.94L870.33 37.89L871.08 37.85L871.83 37.80L872.58 37.75L873.33 37.71L874.08 37.66L874.82 37.61L875.57 37.57L876.32 37.52L877.07 37.48L877.82 37.43L878.57 37.38L879.32 37.34L880.07 37.29L880.81 37.25L881.56 37.20L882.31 37.15L883.06 37.11L883.81 37.06L884.56 37.02L885.31 36.97L886.05 36.93L886.80 36.88L887.55 36.84L888.30 36.79L889.05 36.75L889.80 36.70L890.54 36.66L891.29 36.61L892.04 36.57L892.79 36.52L893.54 36.48L894.29 36.43L895.03 36.39L895.78 36.34L896.53 36.30L897.28 36.25L898.03 36.21L898.78 36.17L899.52 36.12L900.27 36.08L901.02 36.03L901.77 35.99L902.52 35.95L903.27 35.90L904.01 35.86L904.76 35.81L905.51 35.77L906.26 35.73L907.01 35.68L907.75 35.64L908.50 35.60L909.25 35.55L910.00 35.51L910.75 35.47L911.49 35.42L912.24 35.38L912.99 35.34L913.74 35.29L914.48 35.25L915.23 35.21L915.98 35.16L916.73 35.12L917.48 35.08L918.22 35.04L918.97 34.99L919.72 34.95L920.47 34.91L921.21 34.87L921.96 34.82L922.71 34.78L923.46 34.74L924.20 34.70L924.95 34.65L925.70 34.61L926.45 34.57L927.19 34.53L927.94 34.48L928.69 34.44L929.44 34.40L930.18 34.36L930.93 34.31L931.68 34.27L932.42 34.23L933.17 34.19L933.92 34.15L934.66 34.10L935.41 34.06L936.16 34.02L936.91 33.98L937.65 33.94L938.40 33.89L939.15 33.85L939.89 33.81L940.64 33.77L941.39 33.73L942.13 33.69L942.88 33.64L943.63 33.60L944.37 33.56L945.12 33.52L945.87 33.48L946.61 33.43L947.36 33.39L948.10 33.35L948.85 33.31L949.60 33.27L950.34 33.23L951.09 33.19L951.84 33.14L952.58 33.10L953.33 33.06L954.07 33.02L954.82 32.98L955.57 32.94L956.31 32.89L957.06 32.85L957.80 32.81L958.55 32.77L959.29 32.73L960.04 32.69L960.79 32.65L961.53 32.60L962.28 32.56L963.02 32.52L963.77 32.48L964.51 32.44L965.26 32.40L966.00 32.36L966.75 32.31L967.49 32.27L968.24 32.23L968.98 32.19L969.73 32.15L970.48 32.11L971.22 32.07L971.96 32.02L972.71 31.98L973.45 31.94L974.20 31.90L974.94 31.86" fill="none" stroke="#0000ff" stroke-width="3.2" stroke-linejoin="round" stroke-dasharray="15.85 9.51" stroke-dashoffset="4.98"/>
<path d="M161.60 621.76L161.90 621.08L162.21 620.40L162.51 619.72L162.82 619.04L163.12 618.37L163.43 617.69L163.73 617.01L164.04 616.33L164.34 615.65L164.65 614.97L164.95 614.29L165.26 613.61L165.56 612.93L165.87 612.25L166.17 611.57L166.48 610.89L166.78 610.21L167.09 609.53L167.39 608.85L167.70 608.17L168.00 607.49L168.31 606.81L168.61 606.12L168.92 605.44L169.22 604.76L169.53 604.08L169.83 603.40L170.14 602.72L170.44 602.04L170.75 601.36L171.05 600.68L171.36 600.00L171.66 599.32L171.97 598.64L172.27 597.96L172.58 597.27L172.88 596.59L173.19 595.91L173.49 595.23L173.80 594.55L174.11 593.87L174.41 593.19L174.72 592.51L175.02 591.82L175.33 591.14L175.63 590.46L175.94 589.78L176.24 589.10L176.55 588.42L176.85 587.73L177.16 587.05L177.47 586.37L177.77 585.69L178.08 585.01L178.38 584.33L178.69 583.64L178.99 582.96L179.30 582.28L179.61 581.60L179.91 580.92L180.22 580.23L180.52 579.55L180.83 578.87L181.13 578.19L181.44 577.50L181.75 576.82L182.05 576.14L182.36 575.46L182.66 574.78L182.97 574.09L183.28 573.41L183.58 572.73L183.89 572.05L184.19 571.36L184.50 570.68L184.81 570.00L185.11 569.32L185.42 568.63L185.72 567.95L186.03 567.27L186.34 566.58L186.64 565.90L186.95 565.22L187.26 564.54L187.56 563.85L187.87 563.17L188.17 562.49L188.48 561.81L188.79 561.12L189.09 560.44L189.40 559.76L189.71 559.07L190.01 558.39L190.32 557.71L190.63 557.03L190.93 556.34L191.24 555.66L191.55 554.98L191.85 554.29L192.16 553.61L192.47 552.93L192.77 552.24L193.08 551.56L193.39 550.88L193.70 550.20L194.00 549.51L194.31 548.83L194.62 548.15L194.92 547.46L195.23 546.78L195.54 546.10L195.85 545.41L196.15 544.73L196.46 544.05L196.77 543.36L197.08 542.68L197.38 542.00L197.69 541.31L198.00 540.63L198.31 539.95L198.61 539.26L198.92 538.58L199.23 537.90L199.54 537.21L199.84 536.53L200.15 535.85L200.46 535.17L200.77 534.48L201.08 533.80L201.38 533.12L201.69 532.43L202.00 531.75L202.31 531.07L202.62 530.38L202.92 529.70L203.23 529.02L203.54 528.33L203.85 527.65L204.16 526.97L204.47 526.28L204.77 525.60L205.08 524.92L205.39 524.23L205.70 523.55L206.01 522.87L206.32 522.18L206.63 521.50L206.94 520.82L207.24 520.13L207.55 519.45L207.86 518.77L208.17 518.09L208.48 517.40L208.79 516.72L209.10 516.04L209.41 515.35L209.72 514.67L210.03 513.99L210.34 513.30L210.65 512.62L210.95 511.94L211.26 511.26L211.57 510.57L211.88 509.89L212.19 509.21L212.50 508.52L212.81 507.84L213.12 507.16L213.43 506.47L213.74 505.79L214.05 505.11L214.36 504.43L214.67 503.74L214.98 503.06L215.29 502.38L215.60 501.70L215.91 501.01L216.22 500.33L216.54 499.65L216.85 498.96L217.16 498.28L217.47 497.60L217.78 496.92L218.09 496.23L218.40 495.55L218.71 494.87L219.02 494.19L219.33 493.51L219.64 492.82L219.95 492.14L220.27 491.46L220.58 490.78L220.89 490.09L221.20 489.41L221.51 488.73L221.82 488.05L222.13 487.36L222.45 486.68L222.76 486.00L223.07 485.32L223.38 484.64L223.69 483.95L224.01 483.27L224.32 482.59L224.63 481.91L224.94 481.23L225.25 480.55L225.57 479.86L225.88 479.18L226.19 478.50L226.50 477.82L226.82 477.14L227.13 476.46L227.44 475.77L227.75 475.09L228.07 474.41L228.38 473.73L228.69 473.05L229.01 472.37L229.32 471.69L229.63 471.01L229.95 470.32L230.26 469.64L230.57 468.96L230.89 468.28L231.20 467.60L231.51 466.92L231.83 466.24L232.14 465.56L232.46 464.88L232.77 464.20L233.08 463.52L233.40 462.84L233.71 462.15L234.03 461.47L234.34 460.79L234.65 460.11L234.97 459.43L235.28 458.75L235.60 458.07L235.91 457.39L236.23 456.71L236.54 456.03L236.86 455.35L237.17 454.67L237.49 453.99L237.80 453.31L238.12 452.63L238.43 451.95L238.75 451.27L239.06 450.59L239.38 449.91L239.70 449.23L240.01 448.56L240.33 447.88L240.64 447.20L240.96 446.52L241.28 445.84L241.59 445.16L241.91 444.48L242.22 443.80L242.54 443.12L242.86 442.44L243.17 441.76L243.49 441.09L243.81 440.41L244.12 439.73L244.44 439.05L244.76 438.37L245.08 437.69L245.39 437.01L245.71 436.34L246.03 435.66L246.34 434.98L246.66 434.30L246.98 433.62L247.30 432.95L247.62 432.27L247.93 431.59L248.25 430.91L248.57 430.24L248.89 429.56L249.21 428.88L249.52 428.20L249.84 427.53L250.16 426.85L250.48 426.17L250.80 425.49L251.12 424.82L251.44 424.14L251.76 423.46L252.07 422.79L252.39 422.11L252.71 421.43L253.03 420.76L253.35 420.08L253.67 419.40L253.99 418.73L254.31 418.05L254.63 417.38L254.95 416.70L255.27 416.02L255.59 415.35L255.91 414.67L256.23 414.00L256.55 413.32L256.87 412.64L257.19 411.97L257.51 411.29L257.83 410.62L258.16 409.94L258.48 409.27L258.80 408.59L259.12 407.92L259.44 407.24L259.76 406.57L260.08 405.89L260.40 405.22L260.73 404.55L261.05 403.87L261.37 403.20L261.69 402.52L262.01 401.85L262.34 401.17L262.66 400.50L262.98 399.83L263.30 399.15L263.63 398.48L263.95 397.81L264.27 397.13L264.60 396.46L264.92 395.79L265.24 395.11L265.56 394.44L265.89 393.77L266.21 393.09L266.54 392.42L266.86 391.75L267.18 391.08L267.51 390.40L267.83 389.73L268.16 389.06L268.48 388.39L268.80 387.72L269.13 387.04L269.45 386.37L269.78 385.70L270.10 385.03L270.43 384.36L270.75 383.69L271.08 383.02L271.40 382.34L271.73 381.67L272.05 381.00L272.38 380.33L272.70 379.66L273.03 378.99L273.36 378.32L273.68 377.65L274.01 376.98L274.34 376.31L274.66 375.64L274.99 374.97L275.31 374.30L275.64 373.63L275.97 372.96L276.30 372.29L276.62 371.62L276.95 370.95L277.28 370.28L277.60 369.61L277.93 368.94L278.26 368.27L278.59 367.60L278.92 366.94L279.24 366.27L279.57 365.60L279.90 364.93L280.23 364.26L280.56 363.59L280.89 362.92L281.22 362.25L281.54 361.59L281.87 360.92L282.20 360.25L282.53 359.58L282.86 358.91L283.19 358.25L283.52 357.58L283.85 356.91L284.18 356.24L284.51 355.57L284.84 354.91L285.17 354.24L285.50 353.57L285.83 352.90L286.17 352.24L286.50 351.57L286.83 350.90L287.16 350.24L287.49 349.57L287.82 348.90L288.15 348.24L288.49 347.57L288.82 346.90L289.15 346.23L289.48 345.57L289.82 344.90L290.15 344.23L290.48 343.57L290.81 342.90L291.15 342.24L291.48 341.57L291.81 340.90L292.15 340.24L292.48 339.57L292.81 338.90L293.15 338.24L293.48 337.57L293.82 336.91L294.15 336.24L294.49 335.57L294.82 334.91L295.16 334.24L295.49 333.58L295.83 332.91L296.16 332.24L296.50 331.58L296.83 330.91L297.17 330.25L297.50 329.58L297.84 328.92L298.18 328.25L298.51 327.59L298.85 326.92L299.19 326.25L299.52 325.59L299.86 324.92L300.20 324.26L300.54 323.59L300.87 322.93L301.21 322.26L301.55 321.60L301.89 320.93L302.23 320.27L302.56 319.60L302.90 318.94L303.24 318.27L303.58 317.61L303.92 316.94L304.26 316.28L304.60 315.61L304.94 314.95L305.28 314.28L305.62 313.62L305.96 312.95L306.30 312.29L306.64 311.62L306.98 310.96L307.32 310.29L307.66 309.63L308.00 308.96L308.35 308.30L308.69 307.63L309.03 306.97L309.37 306.30L309.71 305.64L310.06 304.97L310.40 304.31L310.74 303.64L311.08 302.98L311.43 302.31L311.77 301.65L312.11 300.98L312.46 300.32L312.80 299.65L313.15 298.99L313.49 298.32L313.83 297.66L314.18 296.99L314.52 296.33L314.87 295.66L315.21 295.00L315.56 294.33L315.90 293.67L316.25 293.00L316.60 292.34L316.94 291.67L317.29 291.01L317.64 290.34L317.98 289.68L318.33 289.01L318.68 288.35L319.02 287.68L319.37 287.02L319.72 286.35L320.07 285.69L320.41 285.02L320.76 284.36L321.11 283.69L321.46 283.03L321.81 282.36L322.16 281.70L322.51 281.03L322.86 280.37L323.21 279.70L323.56 279.03L323.91 278.37L324.26 277.70L324.61 277.04L324.96 276.37L325.31 275.71L325.66 275.04L326.01 274.38L326.36 273.71L326.72 273.04L327.07 272.38L327.42 271.71L327.77 271.05L328.12 270.38L328.48 269.71L328.83 269.05L329.18 268.38L329.54 267.72L329.89 267.05L330.25 266.38L330.60 265.72L330.95 265.05L331.31 264.39L331.66 263.72L332.02 263.05L332.37 262.39L332.73 261.72L333.09 261.05L333.44 260.39L333.80 259.72L334.15 259.05L334.51 258.39L334.87 257.72L335.23 257.06L335.58 256.39L335.94 255.72L336.30 255.06L336.66 254.39L337.02 253.73L337.38 253.06L337.74 252.40L338.10 251.73L338.46 251.07L338.82 250.40L339.18 249.74L339.55 249.07L339.91 248.41L340.27 247.74L340.64 247.08L341.00 246.42L341.36 245.75L341.73 245.09L342.09 244.43L342.46 243.76L342.83 243.10L343.19 242.44L343.56 241.78L343.93 241.11L344.30 240.45L344.66 239.79L345.03 239.13L345.40 238.47L345.77 237.81L346.14 237.15L346.52 236.49L346.89 235.83L347.26 235.17L347.63 234.52L348.01 233.86L348.38 233.20L348.76 232.54L349.13 231.89L349.51 231.23L349.88 230.57L350.26 229.92L350.64 229.26L351.02 228.61L351.40 227.96L351.78 227.30L352.16 226.65L352.54 226.00L352.92 225.34L353.31 224.69L353.69 224.04L354.07 223.39L354.46 222.74L354.85 222.09L355.23 221.44L355.62 220.79L356.01 220.15L356.40 219.50L356.79 218.85L357.18 218.21L357.57 217.56L357.96 216.92L358.35 216.27L358.75 215.63L359.14 214.99L359.53 214.35L359.93 213.70L360.33 213.06L360.73 212.42L361.12 211.78L361.52 211.14L361.92 210.51L362.33 209.87L362.73 209.23L363.13 208.60L363.53 207.96L363.94 207.33L364.35 206.70L364.75 206.06L365.16 205.43L365.57 204.80L365.98 204.17L366.39 203.54L366.80 202.91L367.21 202.28L367.63 201.66L368.04 201.03L368.46 200.41L368.87 199.78L369.29 199.16L369.71 198.53L370.13 197.91L370.55 197.29L370.97 196.67L371.39 196.05L371.82 195.44L372.24 194.82L372.67 194.20L373.10 193.59L373.52 192.97L373.95 192.36L374.38 191.75L374.81 191.14L375.25 190.53L375.68 189.92L376.12 189.31L376.55 188.70L376.99 188.10L377.43 187.49L377.87 186.89L378.31 186.28L378.75 185.68L379.19 185.08L379.64 184.48L380.08 183.88L380.53 183.29L380.98 182.69L381.43 182.09L381.88 181.50L382.33 180.91L382.78 180.32L383.24 179.73L383.69 179.14L384.15 178.55L384.61 177.96L385.07 177.38L385.53 176.79L385.99 176.21L386.45 175.63L386.92 175.05L387.38 174.47L387.85 173.89L388.32 173.31L388.79 172.73L389.26 172.16L389.73 171.59L390.21 171.02L390.68 170.45L391.16 169.88L391.64 169.31L392.12 168.74L392.60 168.18L393.08 167.61L393.57 167.05L394.05 166.49L394.54 165.93L395.03 165.37L395.52 164.81L396.01 164.26L396.50 163.71L397.00 163.15L397.50 162.60L397.99 162.05L398.49 161.50L398.99 160.96L399.50 160.41L400.00 159.87L400.50 159.33L401.01 158.79L401.52 158.25L402.03 157.71L402.54 157.17L403.05 156.64L403.57 156.11L404.09 155.57L404.60 155.04L405.12 154.52L405.64 153.99L406.17 153.46L406.69 152.94L407.22 152.42L407.75 151.90L408.28 151.38L408.81 150.86L409.34 150.35L409.87 149.83L410.41 149.32L410.95 148.81L411.48 148.30L412.02 147.79L412.57 147.29L413.11 146.78L413.65 146.28L414.20 145.78L414.75 145.28L415.30 144.78L415.85 144.29L416.40 143.79L416.96 143.30L417.51 142.81L418.07 142.32L418.63 141.83L419.19 141.35L419.75 140.86L420.31 140.38L420.88 139.90L421.44 139.42L422.01 138.95L422.58 138.47L423.15 138.00L423.72 137.52L424.29 137.05L424.87 136.59L425.45 136.12L426.02 135.65L426.60 135.19L427.18 134.73L427.77 134.27L428.35 133.81L428.93 133.35L429.52 132.90L430.11 132.45L430.70 132.00L431.29 131.55L431.88 131.10L432.47 130.65L433.07 130.21L433.66 129.77L434.26 129.33L434.86 128.89L435.46 128.45L436.06 128.02L436.66 127.58L437.27 127.15L437.87 126.72L438.48 126.30L439.09 125.87L439.70 125.45L440.31 125.02L440.92 124.60L441.53 124.19L442.15 123.77L442.77 123.35L443.38 122.94L444.00 122.53L444.62 122.12L445.24 121.72L445.87 121.31L446.49 120.91L447.11 120.50L447.74 120.11L448.37 119.71L449.00 119.31L449.63 118.92L450.26 118.53L450.89 118.14L451.53 117.75L452.16 117.36L452.80 116.98L453.44 116.60L454.08 116.21L454.72 115.84L455.36 115.46L456.00 115.09L456.64 114.71L457.29 114.34L457.93 113.97L458.58 113.61L459.23 113.24L459.88 112.88L460.53 112.52L461.18 112.16L461.84 111.80L462.49 111.45L463.15 111.10L463.80 110.74L464.46 110.40L465.12 110.05L465.78 109.70L466.44 109.36L467.11 109.02L467.77 108.68L468.43 108.34L469.10 108.01L469.77 107.68L470.43 107.35L471.10 107.02L471.77 106.69L472.44 106.36L473.12 106.04L473.79 105.72L474.46 105.40L475.14 105.08L475.82 104.76L476.49 104.45L477.17 104.14L477.85 103.83L478.53 103.52L479.21 103.21L479.89 102.91L480.58 102.60L481.26 102.30L481.95 102.00L482.63 101.70L483.32 101.41L484.00 101.11L484.69 100.82L485.38 100.53L486.07 100.24L486.76 99.95L487.45 99.66L488.15 99.38L488.84 99.10L489.53 98.81L490.23 98.53L490.93 98.26L491.62 97.98L492.32 97.70L493.02 97.43L493.72 97.16L494.42 96.89L495.12 96.62L495.82 96.35L496.52 96.09L497.22 95.82L497.92 95.56L498.63 95.30L499.33 95.04L500.04 94.78L500.74 94.53L501.45 94.27L502.16 94.02L502.86 93.76L503.57 93.51L504.28 93.26L504.99 93.02L505.70 92.77L506.41 92.52L507.12 92.28L507.83 92.04L508.54 91.80L509.26 91.56L509.97 91.32L510.68 91.08L511.40 90.84L512.11 90.61L512.83 90.38L513.54 90.14L514.26 89.91L514.98 89.68L515.69 89.46L516.41 89.23L517.13 89.00L517.85 88.78L518.57 88.55L519.29 88.33L520.01 88.11L520.73 87.89L521.45 87.67L522.17 87.45L522.89 87.24L523.61 87.02L524.33 86.81L525.05 86.60L525.78 86.38L526.50 86.17L527.22 85.96L527.94 85.75L528.67 85.55L529.39 85.34L530.12 85.13L530.84 84.93L531.56 84.73L532.29 84.52L533.01 84.32L533.74 84.12L534.46 83.92L535.19 83.72L535.92 83.53L536.64 83.33L537.37 83.13L538.09 82.94L538.82 82.74L539.55 82.55L540.27 82.36L541.00 82.17L541.73 81.98L542.46 81.79L543.18 81.60L543.91 81.41L544.64 81.23L545.37 81.04L546.09 80.85L546.82 80.67L547.55 80.49L548.28 80.31L549.01 80.12L549.74 79.94L550.47 79.76L551.20 79.59L551.93 79.41L552.66 79.23L553.39 79.05L554.12 78.88L554.85 78.71L555.58 78.53L556.31 78.36L557.04 78.19L557.77 78.02L558.50 77.85L559.23 77.68L559.96 77.51L560.69 77.34L561.42 77.17L562.15 77.01L562.89 76.84L563.62 76.68L564.35 76.51L565.08 76.35L565.81 76.19L566.55 76.03L567.28 75.87L568.01 75.71L568.74 75.55L569.48 75.39L570.21 75.23L570.94 75.07L571.68 74.92L572.41 74.76L573.14 74.61L573.88 74.46L574.61 74.30L575.35 74.15L576.08 74.00L576.81 73.85L577.55 73.70L578.28 73.55L579.02 73.40L579.75 73.25L580.49 73.10L581.22 72.96L581.96 72.81L582.69 72.67L583.43 72.52L584.16 72.38L584.90 72.24L585.63 72.09L586.37 71.95L587.11 71.81L587.84 71.67L588.58 71.53L589.32 71.39L590.05 71.25L590.79 71.11L591.53 70.98L592.26 70.84L593.00 70.71L593.74 70.57L594.47 70.44L595.21 70.30L595.95 70.17L596.68 70.04L597.42 69.90L598.16 69.77L598.90 69.64L599.64 69.51L600.37 69.38L601.11 69.25L601.85 69.12L602.59 69.00L603.33 68.87L604.06 68.74L604.80 68.62L605.54 68.49L606.28 68.37L607.02 68.24L607.76 68.12L608.50 67.99L609.24 67.87L609.98 67.75L610.71 67.63L611.45 67.51L612.19 67.39L612.93 67.27L613.67 67.15L614.41 67.03L615.15 66.91L615.89 66.79L616.63 66.67L617.37 66.56L618.11 66.44L618.85 66.32L619.59 66.21L620.33 66.09L621.07 65.98L621.81 65.87L622.55 65.75L623.29 65.64L624.03 65.53L624.78 65.41L625.52 65.30L626.26 65.19L627.00 65.08L627.74 64.97L628.48 64.86L629.22 64.75L629.96 64.64L630.70 64.54L631.45 64.43L632.19 64.32L632.93 64.21L633.67 64.11L634.41 64.00L635.15 63.89L635.90 63.79L636.64 63.68L637.38 63.58L638.12 63.47L638.86 63.37L639.60 63.27L640.35 63.16L641.09 63.06L641.83 62.96L642.57 62.86L643.32 62.76L644.06 62.65L644.80 62.55L645.54 62.45L646.29 62.35L647.03 62.25L647.77 62.15L648.51 62.06L649.26 61.96L650.00 61.86L650.74 61.76L651.48 61.66L652.23 61.57L652.97 61.47L653.71 61.37L654.46 61.27L655.20 61.18L655.94 61.08L656.68 60.99L657.43 60.89L658.17 60.80L658.91 60.70L659.66 60.61L660.40 60.51L661.14 60.42L661.89 60.33L662.63 60.23L663.37 60.14L664.12 60.05L664.86 59.96L665.60 59.86L666.35 59.77L667.09 59.68L667.83 59.59L668.58 59.50L669.32 59.41L670.07 59.32L670.81 59.22L671.55 59.13L672.30 59.04L673.04 58.95L673.78 58.86L674.53 58.77L675.27 58.69L676.01 58.60L676.76 58.51L677.50 58.42L678.25 58.33L678.99 58.24L679.73 58.15L680.48 58.07L681.22 57.98L681.96 57.89L682.71 57.80L683.45 57.72L684.20 57.63L684.94 57.54L685.68 57.45L686.43 57.37L687.17 57.28L687.91 57.19L688.66 57.11L689.40 57.02L690.15 56.94L690.89 56.85L691.63 56.76L692.38 56.68L693.12 56.59L693.86 56.51L694.61 56.42L695.35 56.34L696.10 56.25L696.84 56.17L697.58 56.08L698.33 56.00L699.07 55.91L699.82 55.83L700.56 55.75L701.30 55.66L702.05 55.58L702.79 55.49L703.53 55.41L704.28 55.33L705.02 55.24L705.77 55.16L706.51 55.08L707.25 55.00L708.00 54.91L708.74 54.83L709.48 54.75L710.23 54.67L710.97 54.58L711.72 54.50L712.46 54.42L713.20 54.34L713.95 54.26L714.69 54.18L715.44 54.09L716.18 54.01L716.92 53.93L717.67 53.85L718.41 53.77L719.16 53.69L719.90 53.61L720.64 53.53L721.39 53.45L722.13 53.37L722.87 53.29L723.62 53.21L724.36 53.13L725.11 53.05L725.85 52.97L726.59 52.89L727.34 52.81L728.08 52.73L728.83 52.65L729.57 52.58L730.31 52.50L731.06 52.42L731.80 52.34L732.55 52.26L733.29 52.18L734.03 52.11L734.78 52.03L735.52 51.95L736.27 51.87L737.01 51.80L737.75 51.72L738.50 51.64L739.24 51.57L739.99 51.49L740.73 51.41L741.47 51.34L742.22 51.26L742.96 51.18L743.71 51.11L744.45 51.03L745.19 50.96L745.94 50.88L746.68 50.80L747.43 50.73L748.17 50.65L748.91 50.58L749.66 50.50L750.40 50.43L751.15 50.35L751.89 50.28L752.64 50.21L753.38 50.13L754.12 50.06L754.87 49.98L755.61 49.91L756.36 49.84L757.10 49.76L757.84 49.69L758.59 49.62L759.33 49.54L760.08 49.47L760.82 49.40L761.57 49.32L762.31 49.25L763.05 49.18L763.80 49.11L764.54 49.04L765.29 48.96L766.03 48.89L766.78 48.82L767.52 48.75L768.26 48.68L769.01 48.61L769.75 48.53L770.50 48.46L771.24 48.39L771.99 48.32L772.73 48.25L773.47 48.18L774.22 48.11L774.96 48.04L775.71 47.97L776.45 47.90L777.20 47.83L777.94 47.76L778.69 47.69L779.43 47.62L780.17 47.55L780.92 47.48L781.66 47.41L782.41 47.35L783.15 47.28L783.90 47.21L784.64 47.14L785.39 47.07L786.13 47.00L786.88 46.93L787.62 46.87L788.36 46.80L789.11 46.73L789.85 46.66L790.60 46.60L791.34 46.53L792.09 46.46L792.83 46.40L793.58 46.33L794.32 46.26L795.07 46.20L795.81 46.13L796.56 46.06L797.30 46.00L798.04 45.93L798.79 45.87L799.53 45.80L800.28 45.73L801.02 45.67L801.77 45.60L802.51 45.54L803.26 45.47L804.00 45.41L804.75 45.34L805.49 45.28L806.24 45.22L806.98 45.15L807.73 45.09L808.47 45.02L809.22 44.96L809.96 44.89L810.71 44.83L811.45 44.77L812.20 44.70L812.94 44.64L813.69 44.58L814.43 44.52L815.18 44.45L815.92 44.39L816.67 44.33L817.41 44.26L818.16 44.20L818.90 44.14L819.65 44.08L820.39 44.02L821.14 43.96L821.88 43.89L822.63 43.83L823.37 43.77L824.12 43.71L824.86 43.65L825.61 43.59L826.35 43.53L827.10 43.47L827.84 43.41L828.59 43.35L829.34 43.29L830.08 43.23L830.83 43.17L831.57 43.11L832.32 43.05L833.06 42.99L833.81 42.93L834.55 42.87L835.30 42.81L836.04 42.75L836.79 42.69L837.53 42.63L838.28 42.57L839.03 42.52L839.77 42.46L840.52 42.40L841.26 42.34L842.01 42.28L842.75 42.23L843.50 42.17L844.25 42.11L844.99 42.05L845.74 42.00L846.48 41.94L847.23 41.88L847.97 41.83L848.72 41.77L849.46 41.71L850.21 41.66L850.96 41.60L851.70 41.54L852.45 41.49L853.19 41.43L853.94 41.38L854.69 41.32L855.43 41.26L856.18 41.21L856.92 41.15L857.67 41.10L858.42 41.04L859.16 40.99L859.91 40.94L860.65 40.88L861.40 40.83L862.15 40.77L862.89 40.72L863.64 40.66L864.38 40.61L865.13 40.56L865.88 40.50L866.62 40.45L867.37 40.40L868.11 40.34L868.86 40.29L869.61 40.24L870.35 40.18L871.10 40.13L871.85 40.08L872.59 40.03L873.34 39.98L874.08 39.92L874.83 39.87L875.58 39.82L876.32 39.77L877.07 39.72L877.82 39.67L878.56 39.61L879.31 39.56L880.06 39.51L880.80 39.46L881.55 39.41L882.30 39.36L883.04 39.31L883.79 39.26L884.54 39.21L885.28 39.16L886.03 39.11L886.78 39.06L887.52 39.01L888.27 38.96L889.02 38.91L889.76 38.86L890.51 38.81L891.26 38.76L892.00 38.72L892.75 38.67L893.50 38.62L894.24 38.57L894.99 38.52L895.74 38.47L896.49 38.43L897.23 38.38L897.98 38.33L898.73 38.28L899.47 38.24L900.22 38.19L900.97 38.14L901.71 38.09L902.46 38.05L903.21 38.00L903.96 37.95L904.70 37.91L905.45 37.86L906.20 37.81L906.95 37.77L907.69 37.72L908.44 37.68L909.19 37.63L909.93 37.59L910.68 37.54L911.43 37.49L912.18 37.45L912.92 37.40L913.67 37.36L914.42 37.32L915.17 37.27L915.92 37.23L916.66 37.18L917.41 37.14L918.16 37.09L918.91 37.05L919.65 37.01L920.40 36.96L921.15 36.92L921.90 36.88L922.64 36.83L923.39 36.79L924.14 36.75L924.89 36.70L925.64 36.66L926.38 36.62L927.13 36.58L927.88 36.53L928.63 36.49L929.38 36.45L930.12 36.41L930.87 36.37L931.62 36.32L932.37 36.28L933.12 36.24L933.86 36.20L934.61 36.16L935.36 36.12L936.11 36.08L936.86 36.04L937.61 36.00L938.35 35.96L939.10 35.91L939.85 35.87L940.60 35.83L941.35 35.79L942.10 35.76L942.85 35.72L943.59 35.68L944.34 35.64L945.09 35.60L945.84 35.56L946.59 35.52L947.34 35.48L948.09 35.44L948.83 35.40L949.58 35.36L950.33 35.33L951.08 35.29L951.83 35.25L952.58 35.21L953.33 35.17L954.08 35.14L954.82 35.10L955.57 35.06L956.32 35.03L957.07 34.99L957.82 34.95L958.57 34.91L959.32 34.88L960.07 34.84L960.82 34.80L961.57 34.77L962.32 34.73L963.07 34.70L963.81 34.66L964.56 34.62L965.31 34.59L966.06 34.55L966.81 34.52L967.56 34.48L968.31 34.45L969.06 34.41L969.81 34.38L970.56 34.34L971.31 34.31L972.06 34.27L972.81 34.24L973.56 34.21L974.31 34.17L975.06 34.14" fill="none" stroke="#008b00" stroke-width="3.2" stroke-linejoin="round" stroke-dasharray="3.17 9.51 15.85 9.51" stroke-dashoffset="25.99"/>
<path d="M141.36 560.22L141.71 559.58L142.06 558.94L142.42 558.30L142.77 557.66L143.13 557.01L143.48 556.37L143.84 555.73L144.20 555.09L144.55 554.45L144.91 553.81L145.27 553.17L145.63 552.53L145.98 551.89L146.34 551.26L146.70 550.62L147.06 549.98L147.42 549.34L147.78 548.70L148.14 548.06L148.50 547.43L148.86 546.79L149.22 546.15L149.58 545.51L149.94 544.87L150.30 544.24L150.66 543.60L151.02 542.96L151.39 542.33L151.75 541.69L152.11 541.05L152.47 540.42L152.83 539.78L153.19 539.14L153.55 538.50L153.91 537.87L154.27 537.23L154.64 536.59L155.00 535.96L155.36 535.32L155.72 534.68L156.08 534.05L156.44 533.41L156.80 532.77L157.16 532.14L157.52 531.50L157.88 530.86L158.24 530.22L158.60 529.59L158.96 528.95L159.31 528.31L159.67 527.67L160.03 527.04L160.39 526.40L160.75 525.76L161.10 525.12L161.46 524.48L161.82 523.84L162.17 523.20L162.53 522.56L162.88 521.92L163.24 521.28L163.59 520.64L163.94 520.00L164.30 519.36L164.65 518.72L165.00 518.08L165.35 517.44L165.70 516.80L166.05 516.16L166.40 515.52L166.75 514.87L167.10 514.23L167.45 513.59L167.80 512.94L168.14 512.30L168.49 511.65L168.83 511.01L169.18 510.36L169.52 509.72L169.86 509.07L170.21 508.43L170.55 507.78L170.89 507.13L171.23 506.49L171.57 505.84L171.90 505.19L172.24 504.54L172.58 503.89L172.91 503.24L173.25 502.59L173.58 501.94L173.92 501.29L174.25 500.64L174.58 499.99L174.92 499.34L175.25 498.69L175.58 498.03L175.91 497.38L176.24 496.73L176.57 496.07L176.89 495.42L177.22 494.77L177.55 494.11L177.88 493.46L178.20 492.80L178.53 492.15L178.85 491.49L179.18 490.84L179.50 490.18L179.82 489.52L180.15 488.87L180.47 488.21L180.79 487.55L181.11 486.90L181.43 486.24L181.75 485.58L182.07 484.92L182.39 484.26L182.71 483.60L183.03 482.95L183.35 482.29L183.67 481.63L183.98 480.97L184.30 480.31L184.62 479.65L184.93 478.99L185.25 478.33L185.57 477.67L185.88 477.01L186.20 476.35L186.51 475.69L186.83 475.03L187.14 474.37L187.45 473.70L187.77 473.04L188.08 472.38L188.40 471.72L188.71 471.06L189.02 470.40L189.33 469.73L189.65 469.07L189.96 468.41L190.27 467.75L190.58 467.08L190.89 466.42L191.21 465.76L191.52 465.10L191.83 464.43L192.14 463.77L192.45 463.11L192.76 462.45L193.07 461.78L193.38 461.12L193.69 460.46L194.01 459.79L194.32 459.13L194.63 458.47L194.94 457.80L195.25 457.14L195.56 456.48L195.87 455.82L196.18 455.15L196.49 454.49L196.80 453.83L197.11 453.16L197.42 452.50L197.73 451.84L198.04 451.17L198.35 450.51L198.66 449.85L198.98 449.19L199.29 448.52L199.60 447.86L199.91 447.20L200.22 446.54L200.53 445.87L200.84 445.21L201.16 444.55L201.47 443.89L201.78 443.22L202.09 442.56L202.41 441.90L202.72 441.24L203.03 440.58L203.35 439.92L203.66 439.25L203.97 438.59L204.29 437.93L204.60 437.27L204.92 436.61L205.23 435.95L205.55 435.29L205.86 434.63L206.18 433.97L206.49 433.31L206.81 432.65L207.13 431.99L207.44 431.33L207.76 430.67L208.08 430.01L208.39 429.35L208.71 428.69L209.03 428.03L209.34 427.37L209.66 426.71L209.98 426.05L210.30 425.39L210.62 424.73L210.94 424.07L211.25 423.42L211.57 422.76L211.89 422.10L212.21 421.44L212.53 420.78L212.85 420.12L213.17 419.47L213.49 418.81L213.81 418.15L214.13 417.49L214.45 416.83L214.77 416.18L215.09 415.52L215.41 414.86L215.73 414.20L216.06 413.55L216.38 412.89L216.70 412.23L217.02 411.57L217.34 410.92L217.66 410.26L217.99 409.60L218.31 408.95L218.63 408.29L218.95 407.63L219.28 406.98L219.60 406.32L219.92 405.66L220.24 405.01L220.57 404.35L220.89 403.69L221.21 403.04L221.54 402.38L221.86 401.72L222.19 401.07L222.51 400.41L222.83 399.76L223.16 399.10L223.48 398.44L223.81 397.79L224.13 397.13L224.45 396.48L224.78 395.82L225.10 395.17L225.43 394.51L225.75 393.85L226.08 393.20L226.40 392.54L226.73 391.89L227.05 391.23L227.38 390.58L227.70 389.92L228.03 389.27L228.36 388.61L228.68 387.96L229.01 387.30L229.33 386.65L229.66 385.99L229.98 385.34L230.31 384.68L230.64 384.02L230.96 383.37L231.29 382.71L231.61 382.06L231.94 381.40L232.27 380.75L232.59 380.09L232.92 379.44L233.25 378.78L233.57 378.13L233.90 377.47L234.22 376.82L234.55 376.16L234.88 375.51L235.20 374.85L235.53 374.20L235.86 373.55L236.18 372.89L236.51 372.24L236.84 371.58L237.16 370.93L237.49 370.27L237.82 369.62L238.14 368.96L238.47 368.31L238.80 367.65L239.12 367.00L239.45 366.34L239.78 365.69L240.10 365.03L240.43 364.38L240.76 363.72L241.08 363.07L241.41 362.41L241.74 361.76L242.06 361.10L242.39 360.45L242.72 359.79L243.04 359.14L243.37 358.48L243.70 357.82L244.02 357.17L244.35 356.51L244.68 355.86L245.00 355.20L245.33 354.55L245.66 353.89L245.98 353.24L246.31 352.58L246.64 351.93L246.96 351.27L247.29 350.62L247.61 349.96L247.94 349.30L248.27 348.65L248.59 347.99L248.92 347.34L249.24 346.68L249.57 346.03L249.89 345.37L250.22 344.71L250.55 344.06L250.87 343.40L251.20 342.74L251.52 342.09L251.85 341.43L252.17 340.78L252.50 340.12L252.82 339.46L253.15 338.81L253.47 338.15L253.80 337.49L254.12 336.84L254.45 336.18L254.77 335.52L255.10 334.87L255.42 334.21L255.74 333.55L256.07 332.90L256.39 332.24L256.72 331.58L257.04 330.92L257.36 330.27L257.69 329.61L258.01 328.95L258.34 328.30L258.66 327.64L258.98 326.98L259.31 326.32L259.63 325.67L259.96 325.01L260.28 324.35L260.60 323.69L260.93 323.04L261.25 322.38L261.58 321.72L261.90 321.06L262.22 320.41L262.55 319.75L262.87 319.09L263.20 318.44L263.52 317.78L263.85 317.12L264.17 316.46L264.49 315.81L264.82 315.15L265.14 314.49L265.47 313.84L265.79 313.18L266.12 312.52L266.44 311.86L266.77 311.21L267.09 310.55L267.42 309.89L267.74 309.24L268.07 308.58L268.40 307.92L268.72 307.27L269.05 306.61L269.37 305.96L269.70 305.30L270.03 304.64L270.35 303.99L270.68 303.33L271.01 302.68L271.33 302.02L271.66 301.36L271.99 300.71L272.32 300.05L272.64 299.40L272.97 298.74L273.30 298.09L273.63 297.43L273.96 296.78L274.29 296.12L274.61 295.47L274.94 294.81L275.27 294.16L275.60 293.50L275.93 292.85L276.26 292.20L276.59 291.54L276.93 290.89L277.26 290.23L277.59 289.58L277.92 288.93L278.25 288.27L278.58 287.62L278.92 286.97L279.25 286.32L279.58 285.66L279.91 285.01L280.25 284.36L280.58 283.71L280.92 283.06L281.25 282.40L281.59 281.75L281.92 281.10L282.26 280.45L282.59 279.80L282.93 279.15L283.27 278.50L283.60 277.85L283.94 277.20L284.28 276.55L284.62 275.90L284.96 275.25L285.29 274.60L285.63 273.95L285.97 273.30L286.31 272.65L286.65 272.01L286.99 271.36L287.34 270.71L287.68 270.06L288.02 269.41L288.36 268.77L288.70 268.12L289.05 267.47L289.39 266.83L289.74 266.18L290.08 265.54L290.43 264.89L290.77 264.25L291.12 263.60L291.46 262.96L291.81 262.31L292.16 261.67L292.51 261.02L292.86 260.38L293.20 259.74L293.55 259.09L293.90 258.45L294.25 257.81L294.61 257.17L294.96 256.52L295.31 255.88L295.66 255.24L296.02 254.60L296.37 253.96L296.72 253.32L297.08 252.68L297.43 252.04L297.79 251.40L298.15 250.76L298.50 250.12L298.86 249.48L299.22 248.85L299.58 248.21L299.94 247.57L300.30 246.93L300.66 246.30L301.02 245.66L301.38 245.02L301.74 244.39L302.11 243.75L302.47 243.12L302.83 242.48L303.20 241.85L303.56 241.22L303.93 240.58L304.30 239.95L304.66 239.32L305.03 238.69L305.40 238.05L305.77 237.42L306.14 236.79L306.51 236.16L306.88 235.53L307.26 234.90L307.63 234.27L308.00 233.64L308.38 233.01L308.75 232.38L309.13 231.76L309.50 231.13L309.88 230.50L310.26 229.88L310.64 229.25L311.02 228.62L311.40 228.00L311.78 227.37L312.16 226.75L312.54 226.13L312.92 225.50L313.31 224.88L313.69 224.26L314.08 223.63L314.46 223.01L314.85 222.39L315.24 221.77L315.63 221.15L316.02 220.53L316.41 219.91L316.80 219.29L317.19 218.67L317.58 218.06L317.98 217.44L318.37 216.82L318.77 216.21L319.16 215.59L319.56 214.97L319.96 214.36L320.35 213.74L320.75 213.13L321.15 212.52L321.56 211.90L321.96 211.29L322.36 210.68L322.76 210.07L323.17 209.46L323.57 208.85L323.98 208.24L324.39 207.63L324.80 207.02L325.21 206.41L325.62 205.80L326.03 205.20L326.44 204.59L326.85 203.98L327.27 203.38L327.68 202.77L328.10 202.17L328.51 201.56L328.93 200.96L329.35 200.36L329.77 199.76L330.19 199.15L330.61 198.55L331.03 197.95L331.46 197.35L331.88 196.75L332.31 196.16L332.73 195.56L333.16 194.96L333.59 194.36L334.02 193.77L334.45 193.17L334.88 192.58L335.31 191.98L335.75 191.39L336.18 190.79L336.62 190.20L337.05 189.61L337.49 189.02L337.93 188.43L338.37 187.84L338.81 187.25L339.25 186.66L339.70 186.08L340.14 185.49L340.58 184.90L341.03 184.32L341.48 183.73L341.93 183.15L342.38 182.57L342.83 181.98L343.28 181.40L343.73 180.82L344.18 180.24L344.64 179.66L345.09 179.09L345.55 178.51L346.01 177.93L346.47 177.36L346.93 176.78L347.39 176.21L347.85 175.64L348.32 175.07L348.78 174.50L349.25 173.93L349.71 173.36L350.18 172.79L350.65 172.23L351.12 171.66L351.59 171.10L352.06 170.53L352.54 169.97L353.01 169.41L353.49 168.85L353.97 168.29L354.44 167.73L354.92 167.17L355.40 166.62L355.88 166.06L356.37 165.51L356.85 164.96L357.34 164.41L357.82 163.86L358.31 163.31L358.80 162.76L359.29 162.21L359.78 161.67L360.27 161.12L360.76 160.58L361.26 160.04L361.75 159.50L362.25 158.96L362.75 158.42L363.25 157.88L363.75 157.35L364.25 156.81L364.75 156.28L365.25 155.75L365.76 155.22L366.27 154.69L366.77 154.16L367.28 153.63L367.79 153.11L368.30 152.59L368.81 152.06L369.33 151.54L369.84 151.02L370.36 150.51L370.88 149.99L371.39 149.48L371.91 148.96L372.43 148.45L372.96 147.94L373.48 147.43L374.00 146.92L374.53 146.42L375.06 145.91L375.59 145.41L376.11 144.91L376.65 144.41L377.18 143.91L377.71 143.41L378.25 142.92L378.78 142.42L379.32 141.93L379.86 141.44L380.40 140.95L380.94 140.47L381.48 139.98L382.02 139.50L382.57 139.02L383.11 138.53L383.66 138.06L384.21 137.58L384.76 137.10L385.31 136.63L385.86 136.16L386.42 135.69L386.97 135.22L387.53 134.75L388.09 134.29L388.65 133.83L389.21 133.36L389.77 132.91L390.33 132.45L390.90 131.99L391.46 131.54L392.03 131.09L392.60 130.64L393.17 130.19L393.74 129.74L394.31 129.30L394.88 128.85L395.46 128.41L396.03 127.98L396.61 127.54L397.19 127.10L397.77 126.67L398.35 126.24L398.94 125.81L399.52 125.38L400.11 124.96L400.69 124.54L401.28 124.12L401.87 123.70L402.46 123.28L403.06 122.87L403.65 122.45L404.25 122.04L404.84 121.63L405.44 121.23L406.04 120.82L406.64 120.42L407.25 120.02L407.85 119.62L408.45 119.23L409.06 118.83L409.67 118.44L410.28 118.05L410.89 117.67L411.50 117.28L412.12 116.90L412.73 116.52L413.35 116.14L413.97 115.76L414.59 115.39L415.21 115.02L415.83 114.65L416.45 114.28L417.08 113.92L417.70 113.56L418.33 113.20L418.96 112.84L419.59 112.48L420.22 112.13L420.86 111.78L421.49 111.43L422.13 111.08L422.77 110.74L423.40 110.39L424.04 110.05L424.69 109.71L425.33 109.38L425.97 109.04L426.62 108.71L427.26 108.38L427.91 108.05L428.56 107.72L429.21 107.40L429.86 107.08L430.51 106.76L431.17 106.44L431.82 106.12L432.48 105.81L433.13 105.50L433.79 105.19L434.45 104.88L435.11 104.57L435.77 104.27L436.44 103.96L437.10 103.66L437.76 103.36L438.43 103.07L439.10 102.77L439.76 102.48L440.43 102.18L441.10 101.89L441.78 101.61L442.45 101.32L443.12 101.04L443.79 100.75L444.47 100.47L445.15 100.19L445.82 99.92L446.50 99.64L447.18 99.37L447.86 99.09L448.54 98.82L449.22 98.55L449.91 98.29L450.59 98.02L451.27 97.76L451.96 97.49L452.65 97.23L453.33 96.97L454.02 96.72L454.71 96.46L455.40 96.21L456.09 95.95L456.78 95.70L457.47 95.45L458.17 95.21L458.86 94.96L459.55 94.71L460.25 94.47L460.95 94.23L461.64 93.99L462.34 93.75L463.04 93.51L463.74 93.27L464.44 93.04L465.14 92.81L465.84 92.57L466.54 92.34L467.24 92.11L467.95 91.89L468.65 91.66L469.35 91.44L470.06 91.21L470.76 90.99L471.47 90.77L472.18 90.55L472.88 90.33L473.59 90.11L474.30 89.90L475.01 89.68L475.72 89.47L476.43 89.26L477.14 89.05L477.85 88.84L478.56 88.63L479.28 88.42L479.99 88.21L480.70 88.01L481.41 87.81L482.13 87.60L482.84 87.40L483.56 87.20L484.27 87.00L484.99 86.81L485.71 86.61L486.42 86.41L487.14 86.22L487.86 86.02L488.58 85.83L489.29 85.64L490.01 85.45L490.73 85.26L491.45 85.07L492.17 84.88L492.89 84.70L493.61 84.51L494.33 84.33L495.05 84.14L495.77 83.96L496.49 83.78L497.22 83.60L497.94 83.42L498.66 83.24L499.38 83.06L500.10 82.88L500.83 82.71L501.55 82.53L502.27 82.36L503.00 82.18L503.72 82.01L504.44 81.84L505.17 81.67L505.89 81.50L506.62 81.33L507.34 81.16L508.06 80.99L508.79 80.82L509.51 80.65L510.24 80.49L510.96 80.32L511.69 80.16L512.41 79.99L513.14 79.83L513.86 79.67L514.59 79.51L515.31 79.34L516.04 79.18L516.76 79.02L517.49 78.86L518.21 78.71L518.94 78.55L519.66 78.39L520.39 78.23L521.11 78.07L521.84 77.92L522.56 77.76L523.28 77.61L524.01 77.45L524.73 77.30L525.46 77.15L526.18 76.99L526.90 76.84L527.63 76.69L528.35 76.54L529.07 76.38L529.80 76.23L530.52 76.08L531.24 75.93L531.97 75.78L532.69 75.63L533.41 75.48L534.13 75.34L534.85 75.19L535.58 75.04L536.30 74.89L537.02 74.74L537.74 74.60L538.46 74.45L539.18 74.30L539.90 74.16L540.62 74.01L541.34 73.87L542.06 73.72L542.78 73.58L543.50 73.43L544.21 73.29L544.93 73.15L545.65 73.00L546.37 72.86L547.09 72.72L547.81 72.58L548.52 72.43L549.24 72.29L549.96 72.15L550.68 72.01L551.39 71.87L552.11 71.73L552.83 71.59L553.54 71.45L554.26 71.31L554.98 71.17L555.69 71.04L556.41 70.90L557.13 70.76L557.84 70.62L558.56 70.49L559.27 70.35L559.99 70.21L560.70 70.08L561.42 69.94L562.14 69.81L562.85 69.67L563.57 69.54L564.28 69.41L565.00 69.27L565.71 69.14L566.43 69.01L567.14 68.87L567.86 68.74L568.57 68.61L569.29 68.48L570.00 68.35L570.72 68.22L571.43 68.09L572.15 67.96L572.86 67.83L573.58 67.70L574.29 67.57L575.01 67.44L575.72 67.32L576.44 67.19L577.15 67.06L577.87 66.93L578.58 66.81L579.30 66.68L580.02 66.56L580.73 66.43L581.45 66.31L582.16 66.18L582.88 66.06L583.59 65.93L584.31 65.81L585.02 65.69L585.74 65.57L586.46 65.44L587.17 65.32L587.89 65.20L588.60 65.08L589.32 64.96L590.04 64.84L590.75 64.72L591.47 64.60L592.19 64.48L592.90 64.36L593.62 64.25L594.34 64.13L595.06 64.01L595.77 63.89L596.49 63.78L597.21 63.66L597.93 63.55L598.65 63.43L599.36 63.32L600.08 63.20L600.80 63.09L601.52 62.97L602.24 62.86L602.96 62.75L603.68 62.64L604.40 62.52L605.12 62.41L605.84 62.30L606.56 62.19L607.28 62.08L608.00 61.97L608.72 61.86L609.44 61.75L610.16 61.64L610.88 61.53L611.60 61.42L612.32 61.32L613.04 61.21L613.76 61.10L614.48 61.00L615.20 60.89L615.93 60.78L616.65 60.68L617.37 60.57L618.09 60.47L618.81 60.36L619.54 60.26L620.26 60.16L620.98 60.05L621.70 59.95L622.43 59.85L623.15 59.74L623.87 59.64L624.60 59.54L625.32 59.44L626.04 59.34L626.77 59.24L627.49 59.14L628.21 59.04L628.94 58.94L629.66 58.84L630.39 58.74L631.11 58.64L631.84 58.54L632.56 58.44L633.28 58.35L634.01 58.25L634.73 58.15L635.46 58.06L636.18 57.96L636.91 57.86L637.63 57.77L638.36 57.67L639.09 57.58L639.81 57.48L640.54 57.39L641.26 57.29L641.99 57.20L642.71 57.11L643.44 57.01L644.17 56.92L644.89 56.83L645.62 56.74L646.35 56.64L647.07 56.55L647.80 56.46L648.53 56.37L649.25 56.28L649.98 56.19L650.71 56.10L651.43 56.01L652.16 55.92L652.89 55.83L653.62 55.74L654.34 55.65L655.07 55.56L655.80 55.48L656.53 55.39L657.25 55.30L657.98 55.21L658.71 55.13L659.44 55.04L660.17 54.95L660.89 54.87L661.62 54.78L662.35 54.69L663.08 54.61L663.81 54.52L664.54 54.44L665.26 54.35L665.99 54.27L666.72 54.19L667.45 54.10L668.18 54.02L668.91 53.94L669.64 53.85L670.37 53.77L671.10 53.69L671.83 53.61L672.55 53.52L673.28 53.44L674.01 53.36L674.74 53.28L675.47 53.20L676.20 53.12L676.93 53.04L677.66 52.96L678.39 52.88L679.12 52.80L679.85 52.72L680.58 52.64L681.31 52.56L682.04 52.48L682.77 52.40L683.50 52.32L684.23 52.24L684.96 52.17L685.69 52.09L686.42 52.01L687.15 51.93L687.88 51.86L688.61 51.78L689.34 51.70L690.07 51.63L690.80 51.55L691.53 51.47L692.26 51.40L692.99 51.32L693.73 51.25L694.46 51.17L695.19 51.10L695.92 51.02L696.65 50.95L697.38 50.87L698.11 50.80L698.84 50.72L699.57 50.65L700.30 50.58L701.03 50.50L701.76 50.43L702.49 50.36L703.23 50.28L703.96 50.21L704.69 50.14L705.42 50.07L706.15 49.99L706.88 49.92L707.61 49.85L708.34 49.78L709.07 49.71L709.80 49.64L710.54 49.56L711.27 49.49L712.00 49.42L712.73 49.35L713.46 49.28L714.19 49.21L714.92 49.14L715.65 49.07L716.38 49.00L717.12 48.93L717.85 48.86L718.58 48.79L719.31 48.72L720.04 48.65L720.77 48.59L721.50 48.52L722.23 48.45L722.96 48.38L723.70 48.31L724.43 48.24L725.16 48.18L725.89 48.11L726.62 48.04L727.35 47.97L728.08 47.90L728.81 47.84L729.54 47.77L730.27 47.70L731.01 47.64L731.74 47.57L732.47 47.50L733.20 47.44L733.93 47.37L734.66 47.30L735.39 47.24L736.12 47.17L736.85 47.10L737.58 47.04L738.31 46.97L739.04 46.91L739.78 46.84L740.51 46.78L741.24 46.71L741.97 46.65L742.70 46.58L743.43 46.52L744.16 46.45L744.89 46.39L745.62 46.32L746.35 46.26L747.08 46.19L747.81 46.13L748.54 46.06L749.27 46.00L750.00 45.94L750.73 45.87L751.46 45.81L752.19 45.75L752.92 45.68L753.66 45.62L754.39 45.56L755.12 45.49L755.85 45.43L756.58 45.37L757.31 45.30L758.04 45.24L758.77 45.18L759.50 45.12L760.23 45.05L760.96 44.99L761.69 44.93L762.42 44.87L763.15 44.81L763.88 44.75L764.61 44.68L765.34 44.62L766.07 44.56L766.80 44.50L767.53 44.44L768.26 44.38L768.99 44.32L769.72 44.26L770.45 44.20L771.18 44.13L771.91 44.07L772.64 44.01L773.37 43.95L774.10 43.89L774.83 43.83L775.56 43.77L776.29 43.71L777.02 43.65L777.75 43.59L778.48 43.53L779.21 43.48L779.94 43.42L780.67 43.36L781.40 43.30L782.13 43.24L782.86 43.18L783.59 43.12L784.32 43.06L785.05 43.00L785.78 42.95L786.51 42.89L787.23 42.83L787.96 42.77L788.69 42.71L789.42 42.65L790.15 42.60L790.88 42.54L791.61 42.48L792.34 42.42L793.07 42.37L793.80 42.31L794.53 42.25L795.26 42.20L795.99 42.14L796.72 42.08L797.45 42.03L798.18 41.97L798.91 41.91L799.64 41.86L800.37 41.80L801.10 41.74L801.83 41.69L802.56 41.63L803.29 41.57L804.02 41.52L804.75 41.46L805.48 41.41L806.21 41.35L806.94 41.30L807.66 41.24L808.39 41.19L809.12 41.13L809.85 41.08L810.58 41.02L811.31 40.97L812.04 40.91L812.77 40.86L813.50 40.80L814.23 40.75L814.96 40.69L815.69 40.64L816.42 40.59L817.15 40.53L817.88 40.48L818.61 40.42L819.34 40.37L820.07 40.32L820.80 40.26L821.53 40.21L822.26 40.16L822.99 40.10L823.71 40.05L824.44 40.00L825.17 39.94L825.90 39.89L826.63 39.84L827.36 39.79L828.09 39.73L828.82 39.68L829.55 39.63L830.28 39.58L831.01 39.52L831.74 39.47L832.47 39.42L833.20 39.37L833.93 39.32L834.66 39.26L835.39 39.21L836.12 39.16L836.85 39.11L837.58 39.06L838.31 39.01L839.04 38.96L839.77 38.90L840.50 38.85L841.23 38.80L841.95 38.75L842.68 38.70L843.41 38.65L844.14 38.60L844.87 38.55L845.60 38.50L846.33 38.45L847.06 38.40L847.79 38.35L848.52 38.30L849.25 38.25L849.98 38.20L850.71 38.15L851.44 38.10L852.17 38.05L852.90 38.00L853.63 37.95L854.36 37.90L855.09 37.85L855.82 37.80L856.55 37.76L857.28 37.71L858.01 37.66L858.74 37.61L859.47 37.56L860.20 37.51L860.93 37.46L861.66 37.41L862.39 37.37L863.12 37.32L863.85 37.27L864.58 37.22L865.31 37.17L866.04 37.13L866.77 37.08L867.50 37.03L868.23 36.98L868.96 36.94L869.69 36.89L870.42 36.84L871.15 36.79L871.88 36.75L872.61 36.70L873.34 36.65L874.07 36.61L874.80 36.56L875.53 36.51L876.26 36.47L876.99 36.42L877.72 36.37L878.45 36.33L879.18 36.28L879.91 36.23L880.64 36.19L881.37 36.14L882.10 36.10L882.83 36.05L883.56 36.00L884.29 35.96L885.02 35.91L885.75 35.87L886.48 35.82L887.21 35.78L887.94 35.73L888.68 35.68L889.41 35.64L890.14 35.59L890.87 35.55L891.60 35.50L892.33 35.46L893.06 35.41L893.79 35.37L894.52 35.33L895.25 35.28L895.98 35.24L896.71 35.19L897.44 35.15L898.17 35.10L898.90 35.06L899.63 35.01L900.37 34.97L901.10 34.93L901.83 34.88L902.56 34.84L903.29 34.80L904.02 34.75L904.75 34.71L905.48 34.66L906.21 34.62L906.94 34.58L907.67 34.53L908.41 34.49L909.14 34.45L909.87 34.41L910.60 34.36L911.33 34.32L912.06 34.28L912.79 34.23L913.52 34.19L914.26 34.15L914.99 34.11L915.72 34.06L916.45 34.02L917.18 33.98L917.91 33.94L918.64 33.89L919.37 33.85L920.11 33.81L920.84 33.77L921.57 33.73L922.30 33.68L923.03 33.64L923.76 33.60L924.50 33.56L925.23 33.52L925.96 33.48L926.69 33.44L927.42 33.39L928.15 33.35L928.89 33.31L929.62 33.27L930.35 33.23L931.08 33.19L931.81 33.15L932.55 33.11L933.28 33.07L934.01 33.02L934.74 32.98L935.47 32.94L936.21 32.90L936.94 32.86L937.67 32.82L938.40 32.78L939.14 32.74L939.87 32.70L940.60 32.66L941.33 32.62L942.06 32.58L942.80 32.54L943.53 32.50L944.26 32.46L944.99 32.42L945.73 32.38L946.46 32.34L947.19 32.30L947.93 32.26L948.66 32.22L949.39 32.19L950.12 32.15L950.86 32.11L951.59 32.07L952.32 32.03L953.05 31.99L953.79 31.95L954.52 31.91L955.25 31.87L955.99 31.83L956.72 31.80L957.45 31.76L958.19 31.72L958.92 31.68L959.65 31.64L960.39 31.60L961.12 31.57L961.85 31.53L962.59 31.49L963.32 31.45L964.05 31.41L964.79 31.37L965.52 31.34L966.25 31.30L966.99 31.26L967.72 31.22L968.46 31.19L969.19 31.15L969.92 31.11L970.66 31.07L971.39 31.04L972.12 31.00L972.86 30.96L973.59 30.92L974.33 30.89L975.06 30.85" fill="none" stroke="#ff0000" stroke-width="3.3" stroke-linejoin="round" stroke-dasharray="3.17 9.51" stroke-dashoffset="6.64"/>
<path d="M241.4 315.8V330.5M232.9 315.8H249.9M232.9 330.5H249.9" stroke="#000" stroke-width="2.8" fill="none"/>
<circle cx="241.4" cy="322.9" r="6.4" fill="none" stroke="#000" stroke-width="2.9"/>
<path d="M259.4 295.0V308.7M250.9 295.0H267.9M250.9 308.7H267.9" stroke="#000" stroke-width="2.8" fill="none"/>
<circle cx="259.4" cy="301.8" r="6.4" fill="none" stroke="#000" stroke-width="2.9"/>
<path d="M278.2 262.5V278.2M269.7 262.5H286.7M269.7 278.2H286.7" stroke="#000" stroke-width="2.8" fill="none"/>
<circle cx="278.2" cy="270.6" r="6.4" fill="none" stroke="#000" stroke-width="2.9"/>
<path d="M298.2 226.8V240.1M289.7 226.8H306.7M289.7 240.1H306.7" stroke="#000" stroke-width="2.8" fill="none"/>
<circle cx="298.2" cy="233.4" r="6.4" fill="none" stroke="#000" stroke-width="2.9"/>
<path d="M315.5 192.5V206.5M307.0 192.5H324.0M307.0 206.5H324.0" stroke="#000" stroke-width="2.8" fill="none"/>
<circle cx="315.5" cy="199.1" r="6.4" fill="none" stroke="#000" stroke-width="2.9"/>
<path d="M334.3 165.1V178.3M325.8 165.1H342.8M325.8 178.3H342.8" stroke="#000" stroke-width="2.8" fill="none"/>
<circle cx="334.3" cy="171.7" r="6.4" fill="none" stroke="#000" stroke-width="2.9"/>
<path d="M354.8 138.4V151.5M346.3 138.4H363.3M346.3 151.5H363.3" stroke="#000" stroke-width="2.8" fill="none"/>
<circle cx="354.8" cy="145.1" r="6.4" fill="none" stroke="#000" stroke-width="2.9"/>
<path d="M392.0 107.7V118.5M383.5 107.7H400.5M383.5 118.5H400.5" stroke="#000" stroke-width="2.8" fill="none"/>
<circle cx="392.0" cy="113.5" r="6.4" fill="none" stroke="#000" stroke-width="2.9"/>
<path d="M426.8 91.5V104.2M418.3 91.5H435.3M418.3 104.2H435.3" stroke="#000" stroke-width="2.8" fill="none"/>
<circle cx="426.8" cy="98.1" r="6.4" fill="none" stroke="#000" stroke-width="2.9"/>
<path d="M481.1 76.2V86.8M472.6 76.2H489.6M472.6 86.8H489.6" stroke="#000" stroke-width="2.8" fill="none"/>
<circle cx="481.1" cy="81.3" r="6.4" fill="none" stroke="#000" stroke-width="2.9"/>
<path d="M573.1 64.5V73.2M564.6 64.5H581.6M564.6 73.2H581.6" stroke="#000" stroke-width="2.8" fill="none"/>
<circle cx="573.1" cy="69.0" r="6.4" fill="none" stroke="#000" stroke-width="2.9"/>
<path d="M664.9 50.0V61.0M656.4 50.0H673.4M656.4 61.0H673.4" stroke="#000" stroke-width="2.8" fill="none"/>
<circle cx="664.9" cy="56.0" r="6.4" fill="none" stroke="#000" stroke-width="2.9"/>
<path d="M757.9 47.0V57.6M749.4 47.0H766.4M749.4 57.6H766.4" stroke="#000" stroke-width="2.8" fill="none"/>
<circle cx="757.9" cy="52.0" r="6.4" fill="none" stroke="#000" stroke-width="2.9"/>
<path d="M850.0 42.7V51.5M841.5 42.7H858.5M841.5 51.5H858.5" stroke="#000" stroke-width="2.8" fill="none"/>
<circle cx="850.0" cy="47.1" r="6.4" fill="none" stroke="#000" stroke-width="2.9"/>
<path d="M191.1 462.1V497.9M182.6 462.1H199.6M182.6 497.9H199.6" stroke="#000" stroke-width="2.8" fill="none"/>
<path d="M182.4 472.0H199.8L191.1 487.0Z" fill="#000"/>
<path d="M210.6 420.8V471.1M202.1 420.8H219.1M202.1 471.1H219.1" stroke="#000" stroke-width="2.8" fill="none"/>
<path d="M201.9 434.2H219.3L210.6 449.2Z" fill="#000"/>
<path d="M228.3 369.1V387.4M219.8 369.1H236.8M219.8 387.4H236.8" stroke="#000" stroke-width="2.8" fill="none"/>
<path d="M219.6 371.9H237.0L228.3 386.9Z" fill="#000"/>
<path d="M247.2 331.0V344.0M238.7 331.0H255.7M238.7 344.0H255.7" stroke="#000" stroke-width="2.8" fill="none"/>
<path d="M238.5 332.3H255.9L247.2 347.3Z" fill="#000"/>
<path d="M266.6 301.7V308.7M258.1 301.7H275.1M258.1 308.7H275.1" stroke="#000" stroke-width="2.8" fill="none"/>
<path d="M257.9 300.2H275.3L266.6 315.2Z" fill="#000"/>
<path d="M285.1 272.0V275.2M276.6 272.0H293.6M276.6 275.2H293.6" stroke="#000" stroke-width="2.8" fill="none"/>
<path d="M276.4 269.2H293.8L285.1 284.2Z" fill="#000"/>
<path d="M303.9 227.5V230.8M295.4 227.5H312.4M295.4 230.8H312.4" stroke="#000" stroke-width="2.8" fill="none"/>
<path d="M295.2 226.2H312.6L303.9 241.2Z" fill="#000"/>
<path d="M321.4 203.0V207.7M312.9 203.0H329.9M312.9 207.7H329.9" stroke="#000" stroke-width="2.8" fill="none"/>
<path d="M312.7 200.5H330.1L321.4 215.5Z" fill="#000"/>
<path d="M340.5 168.0V173.3M332.0 168.0H349.0M332.0 173.3H349.0" stroke="#000" stroke-width="2.8" fill="none"/>
<path d="M331.8 165.8H349.2L340.5 180.8Z" fill="#000"/>
<path d="M358.1 147.5V150.2M349.6 147.5H366.6M349.6 150.2H366.6" stroke="#000" stroke-width="2.8" fill="none"/>
<path d="M349.4 146.3H366.8L358.1 161.3Z" fill="#000"/>
<path d="M377.0 129.0V134.3M368.5 129.0H385.5M368.5 134.3H385.5" stroke="#000" stroke-width="2.8" fill="none"/>
<path d="M368.3 127.1H385.7L377.0 142.1Z" fill="#000"/>
<path d="M395.3 119.5V125.2M386.8 119.5H403.8M386.8 125.2H403.8" stroke="#000" stroke-width="2.8" fill="none"/>
<path d="M386.6 117.5H404.0L395.3 132.5Z" fill="#000"/>
<path d="M413.6 105.0V110.5M405.1 105.0H422.1M405.1 110.5H422.1" stroke="#000" stroke-width="2.8" fill="none"/>
<path d="M404.9 103.0H422.3L413.6 118.0Z" fill="#000"/>
<path d="M432.5 101.0V106.3M424.0 101.0H441.0M424.0 106.3H441.0" stroke="#000" stroke-width="2.8" fill="none"/>
<path d="M423.8 98.8H441.2L432.5 113.8Z" fill="#000"/>
<path d="M450.9 91.0V97.5M442.4 91.0H459.4M442.4 97.5H459.4" stroke="#000" stroke-width="2.8" fill="none"/>
<path d="M442.2 89.2H459.6L450.9 104.2Z" fill="#000"/>
<path d="M469.7 85.5V92.9M461.2 85.5H478.2M461.2 92.9H478.2" stroke="#000" stroke-width="2.8" fill="none"/>
<path d="M461.0 83.8H478.4L469.7 98.8Z" fill="#000"/>
<path d="M487.5 82.0V87.5M479.0 82.0H496.0M479.0 87.5H496.0" stroke="#000" stroke-width="2.8" fill="none"/>
<path d="M478.8 80.0H496.2L487.5 95.0Z" fill="#000"/>
<path d="M506.4 75.2V81.2M497.9 75.2H514.9M497.9 81.2H514.9" stroke="#000" stroke-width="2.8" fill="none"/>
<path d="M497.7 73.2H515.1L506.4 88.2Z" fill="#000"/>
<path d="M581.5 62.0V66.0M573.0 62.0H590.0M573.0 66.0H590.0" stroke="#000" stroke-width="2.8" fill="none"/>
<path d="M572.8 59.6H590.2L581.5 74.6Z" fill="#000"/>
<path d="M674.5 48.0V53.0M666.0 48.0H683.0M666.0 53.0H683.0" stroke="#000" stroke-width="2.8" fill="none"/>
<path d="M665.8 46.0H683.2L674.5 61.0Z" fill="#000"/>
<path d="M766.5 41.5V47.5M758.0 41.5H775.0M758.0 47.5H775.0" stroke="#000" stroke-width="2.8" fill="none"/>
<path d="M757.8 39.5H775.2L766.5 54.5Z" fill="#000"/>
</g>
<path d="M435.1 265.5H503.6" stroke="#7221bc" stroke-width="3.85"/>
<path d="M435.1 326H503.6" stroke="#0000ff" stroke-width="3.45" stroke-dasharray="15.85 9.51"/>
<path d="M435.1 384.7H503.6" stroke="#008b00" stroke-width="3.45" stroke-dasharray="3.17 9.51 15.85 9.51"/>
<path d="M435.1 444H503.6" stroke="#ff0000" stroke-width="3.45" stroke-dasharray="3.17 9.51"/>
<circle cx="469.5" cy="504.7" r="6.4" fill="none" stroke="#000" stroke-width="2.9"/>
<path d="M460.8 554.1H478.4L469.6 569.4Z" fill="#000"/>
</svg>
<div id="tx" style="position:absolute;left:0;top:0;width:991px;height:709px;will-change:transform;">
<div class="a" style="left:144.90px;top:624.40px;transform:scale(1.0,1.05);"><span class="t" style="top:-30.15px;font-size:36.00px;right:0;">0.001</span></div>
<div class="a" style="left:144.90px;top:525.35px;transform:scale(1.0,1.05);"><span class="t" style="top:-30.15px;font-size:36.00px;right:0;">0.01</span></div>
<div class="a" style="left:144.90px;top:426.30px;transform:scale(1.0,1.05);"><span class="t" style="top:-30.15px;font-size:36.00px;right:0;">0.1</span></div>
<div class="a" style="left:144.90px;top:327.25px;transform:scale(1.0,1.05);"><span class="t" style="top:-30.15px;font-size:36.00px;right:0;">1</span></div>
<div class="a" style="left:142.90px;top:228.20px;transform:scale(1.0,1.05);"><span class="t" style="top:-30.15px;font-size:36.00px;right:0;">10</span></div>
<div class="a" style="left:142.90px;top:129.15px;transform:scale(1.0,1.05);"><span class="t" style="top:-30.15px;font-size:36.00px;right:0;">100</span></div>
<div class="a" style="left:142.90px;top:30.10px;transform:scale(1.0,1.05);"><span class="t" style="top:-30.15px;font-size:36.00px;right:0;">1000</span></div>
<div class="a" style="left:225.42px;top:645.50px;transform:scale(1.0,1.05);"><span class="t" style="top:-30.15px;font-size:36.00px;left:0;transform:translateX(-50%);">50</span></div>
<div class="a" style="left:411.46px;top:645.50px;transform:scale(1.0,1.05);"><span class="t" style="top:-30.15px;font-size:36.00px;left:0;transform:translateX(-50%);">55</span></div>
<div class="a" style="left:597.51px;top:645.50px;transform:scale(1.0,1.05);"><span class="t" style="top:-30.15px;font-size:36.00px;left:0;transform:translateX(-50%);">60</span></div>
<div class="a" style="left:783.55px;top:645.50px;transform:scale(1.0,1.05);"><span class="t" style="top:-30.15px;font-size:36.00px;left:0;transform:translateX(-50%);">65</span></div>
<div class="a" style="left:969.60px;top:645.50px;transform:scale(1.0,1.05);"><span class="t" style="top:-30.15px;font-size:36.00px;left:0;transform:translateX(-50%);">70</span></div>
<div class="a" style="left:445.90px;top:685.70px;transform:scale(1.08,1.0);"><span class="t" style="top:-38.52px;font-size:46.00px;left:0;">E</span></div>
<div class="a" style="left:476.00px;top:704.30px;transform:scale(1.045,1.0);"><span class="t" style="top:-27.35px;font-size:32.66px;left:0;">c.m.</span></div>
<div class="a" style="left:545.50px;top:685.70px;transform:scale(1.03,1.0);"><span class="t" style="top:-38.52px;font-size:46.00px;left:0;">(MeV)</span></div>
<div class="a" style="left:528.60px;top:276.20px;"><span class="t" style="top:-34.67px;font-size:41.40px;letter-spacing:0.18px;left:0;">Frozen HF (no coupling)</span></div>
<div class="a" style="left:528.60px;top:334.00px;"><span class="t" style="top:-34.67px;font-size:41.40px;left:0;">3</span></div>
<div class="a" style="left:549.40px;top:309.20px;"><span class="t" style="top:-24.62px;font-size:29.39px;left:0;">-</span></div>
<div class="a" style="left:559.60px;top:350.20px;"><span class="t" style="top:-24.62px;font-size:29.39px;left:0;">1</span></div>
<div class="a" style="left:528.60px;top:395.00px;"><span class="t" style="top:-34.67px;font-size:41.40px;left:0;">GQR</span></div>
<div class="a" style="left:528.60px;top:452.90px;"><span class="t" style="top:-34.67px;font-size:41.40px;left:0;">3</span></div>
<div class="a" style="left:549.40px;top:428.20px;"><span class="t" style="top:-24.62px;font-size:29.39px;left:0;">-</span></div>
<div class="a" style="left:559.60px;top:468.70px;"><span class="t" style="top:-24.62px;font-size:29.39px;left:0;">1</span></div>
<div class="a" style="left:574.60px;top:452.30px;"><span class="t" style="top:-34.67px;font-size:41.40px;left:0;">, GQR</span></div>
<div class="a" style="left:528.60px;top:514.60px;"><span class="t" style="top:-34.67px;font-size:41.40px;letter-spacing:0.18px;left:0;">Aljuwair et al.</span></div>
<div class="a" style="left:528.60px;top:569.40px;"><span class="t" style="top:-34.67px;font-size:41.40px;letter-spacing:0.18px;left:0;">Montagnoli et al.</span></div>
<div class="a" style="left:38.80px;top:401.20px;transform:rotate(-90deg) scale(1.2,0.97);"><span class="t" style="top:-38.52px;font-size:46.00px;left:0;">&sigma;</span></div>
<div class="a" style="left:57.60px;top:371.20px;transform:rotate(-90deg) scale(1.064,1.0);"><span class="t" style="top:-27.35px;font-size:32.66px;left:0;">fus</span></div>
<div class="a" style="left:38.60px;top:318.20px;transform:rotate(-90deg) scale(1.03,1.0);"><span class="t" style="top:-38.52px;font-size:46.00px;left:0;">(mb)</span></div>
</div>
</body></html>
